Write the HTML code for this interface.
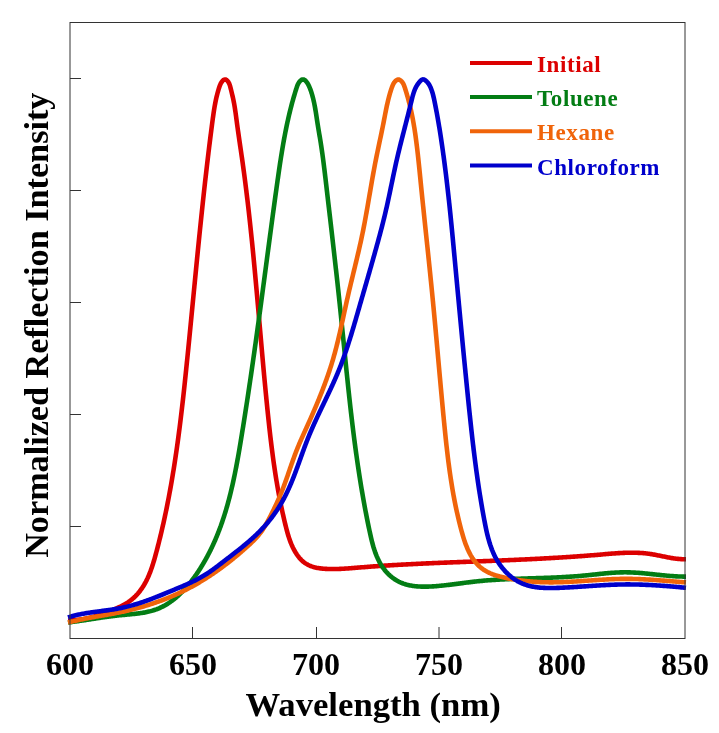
<!DOCTYPE html>
<html><head><meta charset="utf-8"><style>
html,body{margin:0;padding:0;background:#fff;}
svg{display:block;will-change:transform;}
text{font-family:"Liberation Serif",serif;font-weight:bold;}
.tk{font-size:32px;fill:#000;}
.ax{font-size:34.2px;fill:#000;}
.lg{font-size:23px;letter-spacing:0.6px;}
</style></head><body>
<svg width="719" height="733" viewBox="0 0 719 733">
<rect width="719" height="733" fill="#fff"/>
<g fill="none" stroke-width="4.6" stroke-linejoin="round" stroke-linecap="butt">
<path d="M68.00,620.50 L69.11,620.47 L70.20,620.43 L71.28,620.38 L72.35,620.32 L73.40,620.25 L74.44,620.17 L75.47,620.08 L76.49,619.99 L77.50,619.88 L78.50,619.77 L79.49,619.64 L80.47,619.51 L81.44,619.37 L82.40,619.21 L83.36,619.06 L84.30,618.89 L85.25,618.71 L86.18,618.53 L87.11,618.33 L88.04,618.13 L88.96,617.92 L89.88,617.70 L90.79,617.47 L91.71,617.24 L92.62,617.00 L93.52,616.75 L94.43,616.49 L95.34,616.22 L96.24,615.95 L97.15,615.67 L98.06,615.38 L98.97,615.08 L99.88,614.78 L100.79,614.47 L101.71,614.15 L102.63,613.82 L103.56,613.49 L104.49,613.15 L105.42,612.80 L106.36,612.45 L107.31,612.09 L108.26,611.72 L109.23,611.35 L110.19,610.97 L111.17,610.58 L112.15,610.19 L113.14,609.79 L114.13,609.38 L115.12,608.96 L116.11,608.54 L117.10,608.10 L118.09,607.66 L119.07,607.20 L120.05,606.74 L121.02,606.27 L121.98,605.78 L122.93,605.28 L123.87,604.77 L124.80,604.25 L125.71,603.72 L126.60,603.18 L127.48,602.62 L128.33,602.04 L129.17,601.46 L130.00,600.86 L130.80,600.25 L131.59,599.63 L132.35,598.99 L133.11,598.34 L133.84,597.68 L134.56,597.01 L135.27,596.33 L135.95,595.63 L136.63,594.93 L137.28,594.21 L137.93,593.49 L138.55,592.75 L139.17,592.01 L139.77,591.25 L140.35,590.48 L140.92,589.71 L141.48,588.92 L142.03,588.13 L142.56,587.33 L143.08,586.52 L143.59,585.70 L144.09,584.87 L144.58,584.04 L145.05,583.19 L145.51,582.34 L145.97,581.49 L146.41,580.62 L146.84,579.75 L147.26,578.87 L147.68,577.99 L148.08,577.10 L148.48,576.20 L148.86,575.30 L149.24,574.39 L149.61,573.48 L149.97,572.56 L150.33,571.64 L150.67,570.71 L151.01,569.78 L151.35,568.84 L151.67,567.90 L151.99,566.96 L152.31,566.01 L152.62,565.06 L152.92,564.10 L153.22,563.15 L153.51,562.19 L153.80,561.22 L154.09,560.26 L154.37,559.29 L154.65,558.33 L154.92,557.36 L155.19,556.38 L155.46,555.41 L155.73,554.44 L155.99,553.46 L156.25,552.49 L156.51,551.51 L156.77,550.54 L157.03,549.56 L157.28,548.59 L157.54,547.61 L157.79,546.63 L158.04,545.66 L158.29,544.68 L158.54,543.71 L158.79,542.73 L159.03,541.75 L159.27,540.77 L159.52,539.80 L159.76,538.82 L160.00,537.84 L160.24,536.86 L160.47,535.89 L160.71,534.91 L160.94,533.93 L161.18,532.95 L161.41,531.97 L161.64,530.99 L161.87,530.01 L162.09,529.04 L162.32,528.06 L162.54,527.08 L162.77,526.10 L162.99,525.12 L163.21,524.14 L163.43,523.16 L163.65,522.18 L163.86,521.20 L164.08,520.22 L164.29,519.23 L164.51,518.25 L164.72,517.27 L164.93,516.29 L165.14,515.31 L165.35,514.33 L165.55,513.35 L165.76,512.37 L165.96,511.38 L166.17,510.40 L166.37,509.42 L166.57,508.44 L166.77,507.45 L166.97,506.47 L167.16,505.49 L167.36,504.50 L167.55,503.52 L167.75,502.54 L167.94,501.56 L168.13,500.57 L168.32,499.59 L168.51,498.60 L168.70,497.62 L168.89,496.64 L169.07,495.65 L169.26,494.67 L169.44,493.68 L169.62,492.70 L169.80,491.71 L169.98,490.73 L170.16,489.74 L170.34,488.76 L170.52,487.77 L170.70,486.79 L170.87,485.80 L171.04,484.82 L171.22,483.83 L171.39,482.84 L171.56,481.86 L171.73,480.87 L171.90,479.88 L172.07,478.90 L172.23,477.91 L172.40,476.92 L172.57,475.94 L172.73,474.95 L172.89,473.96 L173.06,472.98 L173.22,471.99 L173.38,471.00 L173.54,470.01 L173.70,469.03 L173.85,468.04 L174.01,467.05 L174.17,466.06 L174.32,465.07 L174.47,464.09 L174.63,463.10 L174.78,462.11 L174.93,461.12 L175.08,460.13 L175.23,459.14 L175.38,458.15 L175.53,457.16 L175.68,456.18 L175.82,455.19 L175.97,454.20 L176.11,453.21 L176.26,452.22 L176.40,451.23 L176.54,450.24 L176.69,449.25 L176.83,448.26 L176.97,447.27 L177.11,446.28 L177.24,445.29 L177.38,444.30 L177.52,443.31 L177.66,442.32 L177.79,441.33 L177.93,440.34 L178.06,439.34 L178.20,438.35 L178.33,437.36 L178.46,436.37 L178.59,435.38 L178.72,434.39 L178.85,433.40 L178.98,432.41 L179.11,431.42 L179.24,430.42 L179.37,429.43 L179.50,428.44 L179.62,427.45 L179.75,426.46 L179.87,425.46 L180.00,424.47 L180.12,423.48 L180.25,422.49 L180.37,421.50 L180.49,420.50 L180.61,419.51 L180.73,418.52 L180.85,417.53 L180.97,416.53 L181.09,415.54 L181.21,414.55 L181.33,413.56 L181.45,412.56 L181.57,411.57 L181.68,410.58 L181.80,409.58 L181.92,408.59 L182.03,407.60 L182.15,406.60 L182.26,405.61 L182.38,404.62 L182.49,403.62 L182.60,402.63 L182.72,401.64 L182.83,400.64 L182.94,399.65 L183.05,398.65 L183.16,397.66 L183.27,396.67 L183.38,395.67 L183.49,394.68 L183.60,393.68 L183.71,392.69 L183.82,391.70 L183.93,390.70 L184.04,389.71 L184.15,388.71 L184.25,387.72 L184.36,386.72 L184.47,385.73 L184.57,384.74 L184.68,383.74 L184.79,382.75 L184.89,381.75 L185.00,380.76 L185.10,379.76 L185.21,378.77 L185.31,377.77 L185.42,376.78 L185.52,375.78 L185.62,374.79 L185.73,373.79 L185.83,372.80 L185.93,371.80 L186.04,370.81 L186.14,369.81 L186.24,368.82 L186.34,367.82 L186.45,366.83 L186.55,365.83 L186.65,364.84 L186.75,363.84 L186.85,362.85 L186.95,361.85 L187.05,360.86 L187.15,359.86 L187.26,358.86 L187.36,357.87 L187.46,356.87 L187.56,355.88 L187.66,354.88 L187.76,353.89 L187.86,352.89 L187.96,351.90 L188.06,350.90 L188.16,349.90 L188.26,348.91 L188.36,347.91 L188.45,346.92 L188.55,345.92 L188.65,344.93 L188.75,343.93 L188.85,342.93 L188.95,341.94 L189.05,340.94 L189.15,339.95 L189.25,338.95 L189.34,337.96 L189.44,336.96 L189.54,335.96 L189.64,334.97 L189.74,333.97 L189.83,332.98 L189.93,331.98 L190.03,330.98 L190.13,329.99 L190.23,328.99 L190.32,328.00 L190.42,327.00 L190.52,326.00 L190.62,325.01 L190.71,324.01 L190.81,323.02 L190.91,322.02 L191.01,321.02 L191.10,320.03 L191.20,319.03 L191.30,318.04 L191.39,317.04 L191.49,316.04 L191.59,315.05 L191.68,314.05 L191.78,313.05 L191.88,312.06 L191.98,311.06 L192.07,310.07 L192.17,309.07 L192.27,308.07 L192.36,307.08 L192.46,306.08 L192.56,305.08 L192.65,304.09 L192.75,303.09 L192.85,302.10 L192.94,301.10 L193.04,300.10 L193.14,299.11 L193.23,298.11 L193.33,297.11 L193.43,296.12 L193.52,295.12 L193.62,294.13 L193.72,293.13 L193.81,292.13 L193.91,291.14 L194.01,290.14 L194.10,289.14 L194.20,288.15 L194.30,287.15 L194.39,286.16 L194.49,285.16 L194.59,284.16 L194.68,283.17 L194.78,282.17 L194.88,281.17 L194.97,280.18 L195.07,279.18 L195.17,278.18 L195.27,277.19 L195.36,276.19 L195.46,275.20 L195.56,274.20 L195.65,273.20 L195.75,272.21 L195.85,271.21 L195.95,270.21 L196.04,269.22 L196.14,268.22 L196.24,267.23 L196.34,266.23 L196.43,265.23 L196.53,264.24 L196.63,263.24 L196.73,262.24 L196.83,261.25 L196.93,260.25 L197.02,259.26 L197.12,258.26 L197.22,257.26 L197.32,256.27 L197.42,255.27 L197.52,254.28 L197.61,253.28 L197.71,252.28 L197.81,251.29 L197.91,250.29 L198.01,249.29 L198.11,248.30 L198.21,247.30 L198.31,246.31 L198.41,245.31 L198.51,244.31 L198.61,243.32 L198.71,242.32 L198.81,241.33 L198.91,240.33 L199.01,239.33 L199.11,238.34 L199.21,237.34 L199.31,236.35 L199.41,235.35 L199.51,234.36 L199.61,233.36 L199.72,232.36 L199.82,231.37 L199.92,230.37 L200.02,229.38 L200.12,228.38 L200.22,227.38 L200.33,226.39 L200.43,225.39 L200.53,224.40 L200.63,223.40 L200.74,222.41 L200.84,221.41 L200.94,220.41 L201.05,219.42 L201.15,218.42 L201.25,217.43 L201.36,216.43 L201.46,215.44 L201.57,214.44 L201.67,213.45 L201.78,212.45 L201.88,211.46 L201.99,210.46 L202.09,209.46 L202.20,208.47 L202.30,207.47 L202.41,206.48 L202.51,205.48 L202.62,204.49 L202.73,203.49 L202.83,202.50 L202.94,201.50 L203.05,200.51 L203.15,199.51 L203.26,198.52 L203.37,197.52 L203.48,196.53 L203.59,195.53 L203.69,194.54 L203.80,193.54 L203.91,192.55 L204.02,191.55 L204.13,190.56 L204.24,189.56 L204.35,188.57 L204.46,187.57 L204.57,186.58 L204.68,185.59 L204.79,184.59 L204.90,183.60 L205.01,182.60 L205.12,181.61 L205.23,180.61 L205.35,179.62 L205.46,178.62 L205.57,177.63 L205.68,176.63 L205.80,175.64 L205.91,174.65 L206.02,173.65 L206.14,172.66 L206.25,171.66 L206.37,170.67 L206.48,169.68 L206.60,168.68 L206.71,167.69 L206.83,166.69 L206.94,165.70 L207.06,164.71 L207.17,163.71 L207.29,162.72 L207.41,161.72 L207.53,160.73 L207.64,159.74 L207.76,158.74 L207.88,157.75 L208.00,156.76 L208.12,155.76 L208.24,154.77 L208.36,153.78 L208.47,152.78 L208.59,151.79 L208.72,150.80 L208.84,149.80 L208.96,148.81 L209.08,147.82 L209.20,146.82 L209.32,145.83 L209.44,144.84 L209.57,143.84 L209.69,142.85 L209.81,141.86 L209.94,140.87 L210.06,139.87 L210.19,138.88 L210.31,137.89 L210.43,136.90 L210.56,135.90 L210.69,134.91 L210.81,133.92 L210.94,132.93 L211.07,131.93 L211.19,130.94 L211.32,129.95 L211.45,128.96 L211.58,127.96 L211.71,126.97 L211.83,125.98 L211.96,124.99 L212.09,124.00 L212.22,123.00 L212.35,122.01 L212.49,121.02 L212.62,120.03 L212.75,119.04 L212.88,118.05 L213.02,117.06 L213.16,116.06 L213.30,115.07 L213.44,114.08 L213.58,113.10 L213.73,112.11 L213.88,111.12 L214.04,110.13 L214.20,109.14 L214.36,108.16 L214.52,107.17 L214.69,106.19 L214.87,105.20 L215.05,104.22 L215.23,103.24 L215.42,102.26 L215.62,101.28 L215.82,100.30 L216.03,99.32 L216.25,98.35 L216.47,97.37 L216.70,96.40 L216.93,95.42 L217.18,94.45 L217.43,93.48 L217.69,92.52 L217.95,91.55 L218.23,90.58 L218.52,89.62 L218.81,88.66 L219.11,87.70 L219.43,86.74 L219.77,85.79 L220.14,84.86 L220.56,83.93 L221.03,83.03 L221.58,82.16 L222.20,81.32 L222.92,80.52 L223.71,79.86 L224.56,79.47 L225.42,79.46 L226.29,79.84 L227.10,80.50 L227.83,81.30 L228.44,82.16 L228.94,83.05 L229.37,83.98 L229.72,84.93 L230.02,85.90 L230.29,86.88 L230.54,87.86 L230.79,88.84 L231.03,89.82 L231.28,90.80 L231.52,91.77 L231.75,92.74 L231.99,93.71 L232.22,94.68 L232.45,95.65 L232.67,96.62 L232.89,97.59 L233.10,98.56 L233.31,99.53 L233.51,100.50 L233.71,101.47 L233.90,102.45 L234.08,103.43 L234.26,104.41 L234.43,105.39 L234.59,106.37 L234.76,107.36 L234.91,108.34 L235.07,109.33 L235.21,110.32 L235.36,111.31 L235.50,112.30 L235.64,113.30 L235.78,114.29 L235.91,115.28 L236.05,116.28 L236.18,117.27 L236.31,118.27 L236.44,119.26 L236.57,120.26 L236.71,121.25 L236.84,122.25 L236.97,123.24 L237.10,124.24 L237.24,125.23 L237.37,126.23 L237.51,127.22 L237.65,128.21 L237.79,129.21 L237.92,130.20 L238.06,131.19 L238.21,132.18 L238.35,133.18 L238.49,134.17 L238.63,135.16 L238.77,136.15 L238.92,137.14 L239.06,138.13 L239.20,139.13 L239.35,140.12 L239.49,141.11 L239.64,142.10 L239.78,143.09 L239.93,144.08 L240.07,145.07 L240.22,146.06 L240.36,147.05 L240.51,148.04 L240.65,149.03 L240.80,150.02 L240.94,151.01 L241.09,152.00 L241.23,152.99 L241.37,153.98 L241.52,154.97 L241.66,155.96 L241.80,156.95 L241.95,157.94 L242.09,158.93 L242.23,159.92 L242.37,160.91 L242.51,161.91 L242.65,162.90 L242.79,163.89 L242.92,164.88 L243.06,165.87 L243.20,166.86 L243.33,167.85 L243.47,168.84 L243.60,169.83 L243.74,170.82 L243.87,171.81 L244.00,172.81 L244.14,173.80 L244.27,174.79 L244.40,175.78 L244.53,176.77 L244.66,177.76 L244.79,178.76 L244.92,179.75 L245.05,180.74 L245.17,181.73 L245.30,182.72 L245.43,183.71 L245.55,184.71 L245.68,185.70 L245.80,186.69 L245.93,187.68 L246.05,188.68 L246.17,189.67 L246.30,190.66 L246.42,191.65 L246.54,192.65 L246.66,193.64 L246.78,194.63 L246.90,195.63 L247.02,196.62 L247.14,197.61 L247.26,198.60 L247.38,199.60 L247.50,200.59 L247.61,201.58 L247.73,202.58 L247.85,203.57 L247.96,204.56 L248.08,205.56 L248.19,206.55 L248.31,207.54 L248.42,208.54 L248.53,209.53 L248.65,210.53 L248.76,211.52 L248.87,212.51 L248.98,213.51 L249.09,214.50 L249.20,215.49 L249.31,216.49 L249.42,217.48 L249.53,218.48 L249.64,219.47 L249.75,220.47 L249.86,221.46 L249.97,222.45 L250.08,223.45 L250.18,224.44 L250.29,225.44 L250.40,226.43 L250.50,227.43 L250.61,228.42 L250.71,229.42 L250.82,230.41 L250.92,231.41 L251.02,232.40 L251.13,233.40 L251.23,234.39 L251.33,235.39 L251.44,236.38 L251.54,237.38 L251.64,238.37 L251.74,239.37 L251.84,240.36 L251.95,241.36 L252.05,242.35 L252.15,243.35 L252.25,244.34 L252.35,245.34 L252.45,246.33 L252.54,247.33 L252.64,248.32 L252.74,249.32 L252.84,250.31 L252.94,251.31 L253.03,252.31 L253.13,253.30 L253.23,254.30 L253.33,255.29 L253.42,256.29 L253.52,257.28 L253.61,258.28 L253.71,259.28 L253.81,260.27 L253.90,261.27 L254.00,262.26 L254.09,263.26 L254.18,264.26 L254.28,265.25 L254.37,266.25 L254.47,267.24 L254.56,268.24 L254.65,269.24 L254.75,270.23 L254.84,271.23 L254.93,272.23 L255.02,273.22 L255.12,274.22 L255.21,275.22 L255.30,276.21 L255.39,277.21 L255.48,278.20 L255.57,279.20 L255.67,280.20 L255.76,281.19 L255.85,282.19 L255.94,283.19 L256.03,284.18 L256.12,285.18 L256.21,286.18 L256.30,287.17 L256.39,288.17 L256.48,289.17 L256.57,290.16 L256.66,291.16 L256.75,292.16 L256.84,293.15 L256.92,294.15 L257.01,295.15 L257.10,296.14 L257.19,297.14 L257.28,298.14 L257.37,299.14 L257.46,300.13 L257.54,301.13 L257.63,302.13 L257.72,303.12 L257.81,304.12 L257.90,305.12 L257.98,306.11 L258.07,307.11 L258.16,308.11 L258.25,309.11 L258.34,310.10 L258.42,311.10 L258.51,312.10 L258.60,313.09 L258.69,314.09 L258.77,315.09 L258.86,316.08 L258.95,317.08 L259.04,318.08 L259.12,319.08 L259.21,320.07 L259.30,321.07 L259.38,322.07 L259.47,323.06 L259.56,324.06 L259.65,325.06 L259.73,326.06 L259.82,327.05 L259.91,328.05 L259.99,329.05 L260.08,330.05 L260.17,331.04 L260.26,332.04 L260.34,333.04 L260.43,334.03 L260.52,335.03 L260.61,336.03 L260.69,337.03 L260.78,338.02 L260.87,339.02 L260.96,340.02 L261.04,341.01 L261.13,342.01 L261.22,343.01 L261.31,344.01 L261.40,345.00 L261.48,346.00 L261.57,347.00 L261.66,347.99 L261.75,348.99 L261.84,349.99 L261.93,350.99 L262.01,351.98 L262.10,352.98 L262.19,353.98 L262.28,354.98 L262.37,355.97 L262.46,356.97 L262.55,357.97 L262.64,358.96 L262.73,359.96 L262.82,360.96 L262.91,361.95 L263.00,362.95 L263.09,363.95 L263.18,364.95 L263.27,365.94 L263.36,366.94 L263.45,367.94 L263.54,368.93 L263.63,369.93 L263.72,370.93 L263.82,371.93 L263.91,372.92 L264.00,373.92 L264.09,374.92 L264.18,375.91 L264.28,376.91 L264.37,377.91 L264.46,378.90 L264.56,379.90 L264.65,380.90 L264.74,381.89 L264.84,382.89 L264.93,383.89 L265.03,384.88 L265.12,385.88 L265.22,386.88 L265.31,387.87 L265.41,388.87 L265.50,389.87 L265.60,390.86 L265.69,391.86 L265.79,392.86 L265.89,393.85 L265.98,394.85 L266.08,395.85 L266.18,396.84 L266.28,397.84 L266.37,398.84 L266.47,399.83 L266.57,400.83 L266.67,401.82 L266.77,402.82 L266.87,403.82 L266.97,404.81 L267.07,405.81 L267.17,406.81 L267.27,407.80 L267.37,408.80 L267.47,409.79 L267.57,410.79 L267.68,411.79 L267.78,412.78 L267.88,413.78 L267.99,414.77 L268.09,415.77 L268.19,416.77 L268.30,417.76 L268.40,418.76 L268.51,419.75 L268.62,420.75 L268.72,421.74 L268.83,422.74 L268.94,423.73 L269.04,424.73 L269.15,425.73 L269.26,426.72 L269.37,427.72 L269.48,428.71 L269.59,429.71 L269.70,430.70 L269.82,431.69 L269.93,432.69 L270.04,433.68 L270.16,434.68 L270.27,435.67 L270.39,436.67 L270.50,437.66 L270.62,438.65 L270.74,439.65 L270.86,440.64 L270.98,441.64 L271.10,442.63 L271.22,443.62 L271.34,444.62 L271.46,445.61 L271.59,446.60 L271.71,447.60 L271.84,448.59 L271.96,449.58 L272.09,450.57 L272.22,451.57 L272.35,452.56 L272.48,453.55 L272.61,454.54 L272.74,455.53 L272.87,456.52 L273.01,457.52 L273.14,458.51 L273.28,459.50 L273.41,460.49 L273.55,461.48 L273.69,462.47 L273.83,463.46 L273.97,464.45 L274.12,465.44 L274.26,466.43 L274.41,467.42 L274.55,468.41 L274.70,469.40 L274.85,470.39 L275.00,471.37 L275.15,472.36 L275.30,473.35 L275.45,474.34 L275.61,475.33 L275.76,476.31 L275.92,477.30 L276.08,478.29 L276.24,479.28 L276.40,480.26 L276.56,481.25 L276.73,482.23 L276.89,483.22 L277.06,484.21 L277.23,485.19 L277.40,486.18 L277.57,487.16 L277.74,488.15 L277.92,489.13 L278.09,490.11 L278.27,491.10 L278.45,492.08 L278.63,493.06 L278.81,494.05 L278.99,495.03 L279.18,496.01 L279.36,496.99 L279.55,497.98 L279.74,498.96 L279.93,499.94 L280.13,500.92 L280.32,501.90 L280.52,502.88 L280.72,503.86 L280.92,504.84 L281.12,505.82 L281.32,506.80 L281.53,507.78 L281.73,508.76 L281.94,509.74 L282.15,510.71 L282.36,511.69 L282.58,512.67 L282.79,513.64 L283.01,514.62 L283.23,515.60 L283.45,516.57 L283.68,517.55 L283.90,518.52 L284.13,519.50 L284.36,520.47 L284.59,521.45 L284.82,522.42 L285.06,523.39 L285.29,524.37 L285.53,525.34 L285.77,526.31 L286.02,527.28 L286.27,528.25 L286.52,529.22 L286.77,530.19 L287.03,531.16 L287.30,532.12 L287.57,533.09 L287.85,534.05 L288.13,535.01 L288.42,535.96 L288.72,536.92 L289.03,537.87 L289.35,538.81 L289.68,539.76 L290.02,540.70 L290.37,541.63 L290.73,542.57 L291.10,543.49 L291.48,544.42 L291.88,545.33 L292.29,546.25 L292.71,547.16 L293.15,548.06 L293.61,548.96 L294.08,549.85 L294.56,550.73 L295.07,551.61 L295.58,552.48 L296.12,553.34 L296.67,554.19 L297.24,555.02 L297.83,555.84 L298.44,556.64 L299.06,557.42 L299.70,558.18 L300.36,558.92 L301.04,559.64 L301.74,560.34 L302.46,561.00 L303.20,561.64 L303.95,562.25 L304.73,562.83 L305.53,563.38 L306.35,563.89 L307.18,564.38 L308.04,564.83 L308.91,565.25 L309.80,565.64 L310.70,566.01 L311.62,566.35 L312.55,566.66 L313.49,566.95 L314.45,567.22 L315.42,567.46 L316.39,567.68 L317.38,567.88 L318.38,568.06 L319.38,568.22 L320.39,568.36 L321.40,568.49 L322.42,568.60 L323.45,568.70 L324.47,568.78 L325.50,568.85 L326.53,568.91 L327.56,568.95 L328.59,568.99 L329.62,569.02 L330.65,569.03 L331.67,569.05 L332.70,569.05 L333.72,569.05 L334.73,569.04 L335.75,569.02 L336.76,569.00 L337.78,568.98 L338.79,568.94 L339.79,568.90 L340.80,568.86 L341.81,568.81 L342.81,568.76 L343.81,568.71 L344.81,568.65 L345.81,568.58 L346.81,568.52 L347.81,568.45 L348.80,568.38 L349.80,568.30 L350.80,568.23 L351.79,568.15 L352.78,568.07 L353.78,567.99 L354.77,567.90 L355.76,567.82 L356.76,567.74 L357.75,567.66 L358.74,567.57 L359.73,567.49 L360.73,567.41 L361.72,567.33 L362.71,567.25 L363.70,567.17 L364.70,567.09 L365.69,567.01 L366.68,566.93 L367.68,566.86 L368.67,566.78 L369.67,566.71 L370.66,566.63 L371.65,566.56 L372.65,566.49 L373.64,566.41 L374.64,566.34 L375.63,566.27 L376.63,566.20 L377.62,566.13 L378.62,566.06 L379.61,565.99 L380.61,565.93 L381.60,565.86 L382.60,565.80 L383.60,565.73 L384.59,565.66 L385.59,565.60 L386.58,565.54 L387.58,565.47 L388.58,565.41 L389.57,565.35 L390.57,565.29 L391.57,565.23 L392.56,565.17 L393.56,565.11 L394.56,565.05 L395.56,564.99 L396.55,564.94 L397.55,564.88 L398.55,564.82 L399.55,564.77 L400.54,564.71 L401.54,564.65 L402.54,564.60 L403.54,564.55 L404.54,564.49 L405.53,564.44 L406.53,564.39 L407.53,564.33 L408.53,564.28 L409.53,564.23 L410.53,564.18 L411.53,564.13 L412.53,564.08 L413.52,564.03 L414.52,563.98 L415.52,563.93 L416.52,563.88 L417.52,563.84 L418.52,563.79 L419.52,563.74 L420.52,563.69 L421.52,563.65 L422.52,563.60 L423.52,563.56 L424.52,563.51 L425.52,563.47 L426.52,563.42 L427.52,563.38 L428.52,563.33 L429.52,563.29 L430.52,563.25 L431.52,563.20 L432.52,563.16 L433.52,563.12 L434.52,563.07 L435.52,563.03 L436.52,562.99 L437.52,562.95 L438.52,562.91 L439.52,562.87 L440.52,562.82 L441.52,562.78 L442.52,562.74 L443.52,562.70 L444.52,562.66 L445.52,562.62 L446.52,562.58 L447.53,562.54 L448.53,562.50 L449.53,562.46 L450.53,562.42 L451.53,562.38 L452.53,562.35 L453.53,562.31 L454.53,562.27 L455.53,562.23 L456.53,562.19 L457.53,562.15 L458.53,562.11 L459.53,562.08 L460.53,562.04 L461.54,562.00 L462.54,561.96 L463.54,561.92 L464.54,561.89 L465.54,561.85 L466.54,561.81 L467.54,561.77 L468.54,561.73 L469.54,561.70 L470.54,561.66 L471.54,561.62 L472.54,561.58 L473.54,561.54 L474.54,561.51 L475.55,561.47 L476.55,561.43 L477.55,561.39 L478.55,561.35 L479.55,561.32 L480.55,561.28 L481.55,561.24 L482.55,561.20 L483.55,561.16 L484.55,561.12 L485.55,561.08 L486.55,561.04 L487.55,561.01 L488.55,560.97 L489.55,560.93 L490.55,560.89 L491.55,560.85 L492.55,560.81 L493.55,560.77 L494.55,560.73 L495.55,560.69 L496.55,560.65 L497.55,560.61 L498.55,560.57 L499.55,560.53 L500.55,560.48 L501.55,560.44 L502.55,560.40 L503.55,560.36 L504.55,560.32 L505.55,560.28 L506.55,560.23 L507.55,560.19 L508.54,560.15 L509.54,560.11 L510.54,560.06 L511.54,560.02 L512.54,559.98 L513.54,559.93 L514.54,559.89 L515.54,559.84 L516.54,559.80 L517.54,559.75 L518.54,559.71 L519.54,559.66 L520.54,559.62 L521.53,559.57 L522.53,559.53 L523.53,559.48 L524.53,559.43 L525.53,559.39 L526.53,559.34 L527.53,559.29 L528.53,559.24 L529.53,559.19 L530.52,559.14 L531.52,559.10 L532.52,559.05 L533.52,559.00 L534.52,558.95 L535.52,558.90 L536.52,558.84 L537.51,558.79 L538.51,558.74 L539.51,558.69 L540.51,558.64 L541.51,558.58 L542.51,558.53 L543.51,558.48 L544.50,558.42 L545.50,558.37 L546.50,558.31 L547.50,558.26 L548.50,558.20 L549.50,558.15 L550.49,558.09 L551.49,558.03 L552.49,557.97 L553.49,557.92 L554.49,557.86 L555.48,557.80 L556.48,557.74 L557.48,557.68 L558.48,557.62 L559.48,557.56 L560.47,557.50 L561.47,557.44 L562.47,557.37 L563.47,557.31 L564.47,557.25 L565.46,557.18 L566.46,557.12 L567.46,557.06 L568.46,556.99 L569.45,556.92 L570.45,556.86 L571.45,556.79 L572.45,556.72 L573.45,556.65 L574.44,556.59 L575.44,556.52 L576.44,556.45 L577.44,556.38 L578.43,556.31 L579.43,556.23 L580.43,556.16 L581.43,556.09 L582.42,556.02 L583.42,555.94 L584.42,555.87 L585.41,555.79 L586.41,555.72 L587.41,555.64 L588.41,555.56 L589.40,555.49 L590.40,555.41 L591.40,555.33 L592.40,555.25 L593.39,555.17 L594.39,555.09 L595.39,555.01 L596.38,554.92 L597.38,554.84 L598.38,554.76 L599.38,554.67 L600.37,554.59 L601.37,554.50 L602.37,554.42 L603.36,554.33 L604.36,554.24 L605.36,554.16 L606.35,554.07 L607.35,553.99 L608.35,553.90 L609.34,553.82 L610.34,553.74 L611.34,553.66 L612.34,553.58 L613.33,553.50 L614.33,553.43 L615.33,553.36 L616.32,553.29 L617.32,553.22 L618.32,553.16 L619.31,553.09 L620.31,553.04 L621.31,552.98 L622.30,552.93 L623.30,552.89 L624.30,552.85 L625.29,552.81 L626.29,552.78 L627.29,552.75 L628.28,552.73 L629.28,552.71 L630.28,552.70 L631.27,552.69 L632.27,552.69 L633.27,552.70 L634.26,552.71 L635.26,552.73 L636.26,552.76 L637.25,552.79 L638.25,552.83 L639.25,552.88 L640.24,552.93 L641.24,553.00 L642.24,553.07 L643.23,553.15 L644.23,553.23 L645.23,553.33 L646.22,553.44 L647.22,553.55 L648.22,553.68 L649.21,553.81 L650.21,553.95 L651.21,554.11 L652.20,554.27 L653.20,554.44 L654.20,554.61 L655.19,554.80 L656.19,554.99 L657.19,555.18 L658.18,555.38 L659.18,555.58 L660.18,555.79 L661.17,555.99 L662.17,556.20 L663.16,556.40 L664.16,556.61 L665.16,556.81 L666.15,557.01 L667.15,557.21 L668.14,557.40 L669.14,557.59 L670.13,557.77 L671.12,557.94 L672.12,558.11 L673.11,558.27 L674.11,558.42 L675.10,558.56 L676.09,558.69 L677.08,558.81 L678.08,558.91 L679.07,559.00 L680.06,559.08 L681.05,559.14 L682.04,559.19 L683.03,559.22 L684.02,559.23 L685.01,559.22 L686.00,559.20" stroke="#dc0000"/>
<path d="M68.00,622.50 L69.03,622.37 L70.05,622.24 L71.07,622.11 L72.08,621.98 L73.10,621.84 L74.10,621.71 L75.11,621.57 L76.11,621.43 L77.11,621.29 L78.11,621.14 L79.10,621.00 L80.09,620.85 L81.08,620.71 L82.07,620.56 L83.06,620.41 L84.04,620.26 L85.02,620.11 L86.00,619.96 L86.98,619.81 L87.95,619.66 L88.93,619.51 L89.90,619.36 L90.88,619.21 L91.85,619.06 L92.82,618.91 L93.79,618.76 L94.76,618.61 L95.74,618.46 L96.71,618.31 L97.68,618.17 L98.65,618.02 L99.62,617.87 L100.59,617.73 L101.56,617.59 L102.54,617.44 L103.51,617.30 L104.48,617.16 L105.46,617.03 L106.44,616.89 L107.42,616.76 L108.40,616.62 L109.38,616.49 L110.36,616.37 L111.35,616.24 L112.33,616.12 L113.32,616.00 L114.32,615.88 L115.31,615.76 L116.31,615.65 L117.31,615.54 L118.31,615.43 L119.32,615.33 L120.33,615.22 L121.34,615.13 L122.36,615.03 L123.38,614.94 L124.40,614.84 L125.42,614.75 L126.44,614.66 L127.47,614.57 L128.49,614.47 L129.52,614.38 L130.55,614.28 L131.57,614.18 L132.60,614.08 L133.62,613.98 L134.65,613.87 L135.67,613.75 L136.70,613.63 L137.72,613.51 L138.73,613.38 L139.75,613.24 L140.76,613.09 L141.77,612.94 L142.78,612.78 L143.78,612.61 L144.78,612.43 L145.78,612.24 L146.77,612.04 L147.75,611.83 L148.73,611.61 L149.71,611.37 L150.68,611.13 L151.64,610.87 L152.59,610.59 L153.54,610.30 L154.48,610.00 L155.42,609.68 L156.35,609.35 L157.27,609.00 L158.18,608.64 L159.08,608.26 L159.98,607.86 L160.87,607.45 L161.75,607.03 L162.63,606.59 L163.49,606.14 L164.35,605.68 L165.21,605.20 L166.05,604.71 L166.89,604.20 L167.72,603.68 L168.55,603.16 L169.36,602.61 L170.17,602.06 L170.98,601.49 L171.77,600.92 L172.56,600.33 L173.35,599.73 L174.12,599.12 L174.89,598.50 L175.66,597.87 L176.41,597.23 L177.16,596.58 L177.90,595.92 L178.64,595.25 L179.37,594.57 L180.10,593.89 L180.81,593.19 L181.52,592.48 L182.23,591.77 L182.93,591.05 L183.62,590.32 L184.31,589.59 L184.99,588.85 L185.66,588.10 L186.33,587.34 L186.99,586.58 L187.65,585.81 L188.30,585.03 L188.94,584.25 L189.58,583.47 L190.21,582.68 L190.84,581.88 L191.46,581.08 L192.08,580.27 L192.69,579.46 L193.29,578.65 L193.89,577.83 L194.49,577.01 L195.08,576.18 L195.66,575.35 L196.24,574.52 L196.81,573.69 L197.38,572.85 L197.94,572.01 L198.50,571.17 L199.05,570.33 L199.59,569.48 L200.14,568.63 L200.67,567.79 L201.20,566.93 L201.73,566.08 L202.25,565.22 L202.77,564.36 L203.28,563.50 L203.79,562.64 L204.29,561.78 L204.79,560.91 L205.28,560.04 L205.77,559.17 L206.25,558.30 L206.73,557.42 L207.21,556.55 L207.68,555.67 L208.14,554.79 L208.60,553.90 L209.06,553.02 L209.51,552.13 L209.96,551.25 L210.40,550.36 L210.84,549.46 L211.28,548.57 L211.71,547.67 L212.13,546.78 L212.55,545.88 L212.97,544.98 L213.39,544.07 L213.80,543.17 L214.20,542.26 L214.60,541.36 L215.00,540.45 L215.39,539.54 L215.78,538.62 L216.17,537.71 L216.55,536.79 L216.93,535.88 L217.30,534.96 L217.67,534.04 L218.04,533.11 L218.40,532.19 L218.76,531.27 L219.12,530.34 L219.47,529.41 L219.82,528.48 L220.16,527.55 L220.51,526.62 L220.84,525.68 L221.18,524.75 L221.51,523.81 L221.84,522.87 L222.16,521.93 L222.48,520.99 L222.80,520.05 L223.12,519.11 L223.43,518.16 L223.74,517.22 L224.04,516.27 L224.34,515.32 L224.64,514.37 L224.94,513.42 L225.23,512.47 L225.52,511.52 L225.81,510.56 L226.09,509.61 L226.38,508.65 L226.65,507.69 L226.93,506.74 L227.20,505.78 L227.47,504.81 L227.74,503.85 L228.01,502.89 L228.27,501.93 L228.53,500.96 L228.79,500.00 L229.04,499.03 L229.29,498.06 L229.54,497.09 L229.79,496.12 L230.04,495.15 L230.28,494.18 L230.52,493.21 L230.76,492.24 L230.99,491.26 L231.23,490.29 L231.46,489.31 L231.69,488.34 L231.91,487.36 L232.14,486.38 L232.36,485.41 L232.58,484.43 L232.80,483.45 L233.02,482.47 L233.23,481.49 L233.44,480.50 L233.66,479.52 L233.87,478.54 L234.07,477.56 L234.28,476.57 L234.48,475.59 L234.68,474.60 L234.89,473.62 L235.08,472.63 L235.28,471.64 L235.48,470.66 L235.67,469.67 L235.86,468.68 L236.06,467.69 L236.25,466.71 L236.43,465.72 L236.62,464.73 L236.81,463.74 L236.99,462.75 L237.18,461.76 L237.36,460.77 L237.54,459.77 L237.72,458.78 L237.90,457.79 L238.07,456.80 L238.25,455.81 L238.43,454.82 L238.60,453.82 L238.77,452.83 L238.95,451.84 L239.12,450.84 L239.29,449.85 L239.46,448.86 L239.63,447.86 L239.79,446.87 L239.96,445.88 L240.13,444.88 L240.30,443.89 L240.46,442.90 L240.63,441.90 L240.79,440.91 L240.95,439.92 L241.12,438.92 L241.28,437.93 L241.44,436.94 L241.60,435.94 L241.77,434.95 L241.93,433.96 L242.09,432.97 L242.25,431.97 L242.41,430.98 L242.57,429.99 L242.73,429.00 L242.89,428.00 L243.05,427.01 L243.21,426.02 L243.36,425.03 L243.52,424.04 L243.68,423.05 L243.84,422.05 L243.99,421.06 L244.15,420.07 L244.31,419.08 L244.46,418.09 L244.62,417.10 L244.78,416.11 L244.93,415.12 L245.09,414.13 L245.24,413.14 L245.40,412.15 L245.55,411.16 L245.70,410.17 L245.86,409.18 L246.01,408.19 L246.16,407.20 L246.32,406.21 L246.47,405.22 L246.62,404.23 L246.77,403.24 L246.92,402.25 L247.08,401.26 L247.23,400.27 L247.38,399.28 L247.53,398.29 L247.68,397.30 L247.83,396.31 L247.98,395.33 L248.13,394.34 L248.28,393.35 L248.43,392.36 L248.57,391.37 L248.72,390.38 L248.87,389.39 L249.02,388.41 L249.17,387.42 L249.31,386.43 L249.46,385.44 L249.61,384.45 L249.76,383.46 L249.90,382.48 L250.05,381.49 L250.19,380.50 L250.34,379.51 L250.49,378.52 L250.63,377.54 L250.78,376.55 L250.92,375.56 L251.07,374.57 L251.21,373.58 L251.35,372.60 L251.50,371.61 L251.64,370.62 L251.79,369.63 L251.93,368.64 L252.07,367.66 L252.21,366.67 L252.36,365.68 L252.50,364.69 L252.64,363.71 L252.78,362.72 L252.93,361.73 L253.07,360.74 L253.21,359.76 L253.35,358.77 L253.49,357.78 L253.63,356.79 L253.77,355.81 L253.91,354.82 L254.06,353.83 L254.20,352.84 L254.34,351.85 L254.48,350.87 L254.62,349.88 L254.75,348.89 L254.89,347.90 L255.03,346.92 L255.17,345.93 L255.31,344.94 L255.45,343.95 L255.59,342.96 L255.73,341.98 L255.86,340.99 L256.00,340.00 L256.14,339.01 L256.28,338.02 L256.42,337.04 L256.55,336.05 L256.69,335.06 L256.83,334.07 L256.97,333.08 L257.10,332.10 L257.24,331.11 L257.38,330.12 L257.51,329.13 L257.65,328.14 L257.78,327.15 L257.92,326.16 L258.06,325.18 L258.19,324.19 L258.33,323.20 L258.46,322.21 L258.60,321.22 L258.73,320.23 L258.87,319.24 L259.00,318.25 L259.14,317.26 L259.27,316.27 L259.41,315.28 L259.54,314.30 L259.68,313.31 L259.81,312.32 L259.95,311.33 L260.08,310.34 L260.21,309.35 L260.35,308.36 L260.48,307.37 L260.62,306.38 L260.75,305.39 L260.88,304.40 L261.02,303.40 L261.15,302.41 L261.28,301.42 L261.42,300.43 L261.55,299.44 L261.68,298.45 L261.82,297.46 L261.95,296.47 L262.08,295.48 L262.22,294.49 L262.35,293.50 L262.48,292.50 L262.61,291.51 L262.75,290.52 L262.88,289.53 L263.01,288.54 L263.14,287.55 L263.28,286.55 L263.41,285.56 L263.54,284.57 L263.67,283.58 L263.81,282.59 L263.94,281.60 L264.07,280.60 L264.20,279.61 L264.33,278.62 L264.47,277.63 L264.60,276.63 L264.73,275.64 L264.86,274.65 L264.99,273.66 L265.13,272.66 L265.26,271.67 L265.39,270.68 L265.52,269.69 L265.65,268.69 L265.78,267.70 L265.92,266.71 L266.05,265.71 L266.18,264.72 L266.31,263.73 L266.44,262.74 L266.58,261.74 L266.71,260.75 L266.84,259.76 L266.97,258.76 L267.10,257.77 L267.23,256.78 L267.37,255.78 L267.50,254.79 L267.63,253.80 L267.76,252.80 L267.89,251.81 L268.03,250.82 L268.16,249.82 L268.29,248.83 L268.42,247.84 L268.55,246.84 L268.69,245.85 L268.82,244.86 L268.95,243.86 L269.08,242.87 L269.22,241.88 L269.35,240.88 L269.48,239.89 L269.61,238.89 L269.75,237.90 L269.88,236.91 L270.01,235.91 L270.14,234.92 L270.28,233.93 L270.41,232.93 L270.54,231.94 L270.68,230.95 L270.81,229.95 L270.94,228.96 L271.08,227.96 L271.21,226.97 L271.34,225.98 L271.48,224.98 L271.61,223.99 L271.74,223.00 L271.88,222.00 L272.01,221.01 L272.14,220.02 L272.28,219.02 L272.41,218.03 L272.55,217.03 L272.68,216.04 L272.82,215.05 L272.95,214.05 L273.08,213.06 L273.22,212.07 L273.35,211.07 L273.49,210.08 L273.62,209.09 L273.76,208.09 L273.89,207.10 L274.03,206.11 L274.17,205.11 L274.30,204.12 L274.44,203.13 L274.57,202.13 L274.71,201.14 L274.85,200.15 L274.98,199.15 L275.12,198.16 L275.26,197.17 L275.39,196.17 L275.53,195.18 L275.67,194.19 L275.80,193.19 L275.94,192.20 L276.08,191.21 L276.22,190.21 L276.36,189.22 L276.49,188.23 L276.63,187.24 L276.77,186.24 L276.91,185.25 L277.05,184.26 L277.19,183.27 L277.33,182.27 L277.47,181.28 L277.60,180.29 L277.74,179.30 L277.89,178.30 L278.03,177.31 L278.17,176.32 L278.31,175.33 L278.45,174.34 L278.59,173.34 L278.74,172.35 L278.88,171.36 L279.02,170.37 L279.17,169.38 L279.32,168.39 L279.46,167.40 L279.61,166.41 L279.76,165.42 L279.90,164.43 L280.05,163.44 L280.20,162.45 L280.36,161.46 L280.51,160.47 L280.66,159.48 L280.81,158.49 L280.97,157.50 L281.12,156.51 L281.28,155.52 L281.44,154.53 L281.60,153.55 L281.76,152.56 L281.92,151.57 L282.08,150.59 L282.25,149.60 L282.41,148.61 L282.58,147.63 L282.75,146.64 L282.92,145.66 L283.09,144.67 L283.26,143.69 L283.43,142.70 L283.61,141.72 L283.78,140.73 L283.96,139.75 L284.14,138.77 L284.32,137.78 L284.50,136.80 L284.69,135.82 L284.88,134.84 L285.06,133.86 L285.25,132.88 L285.44,131.90 L285.64,130.92 L285.83,129.94 L286.03,128.96 L286.23,127.98 L286.43,127.00 L286.63,126.03 L286.84,125.05 L287.05,124.07 L287.25,123.10 L287.47,122.12 L287.68,121.14 L287.90,120.17 L288.11,119.20 L288.33,118.22 L288.55,117.25 L288.78,116.28 L289.01,115.31 L289.24,114.33 L289.47,113.36 L289.70,112.39 L289.94,111.42 L290.18,110.45 L290.42,109.48 L290.66,108.52 L290.91,107.55 L291.16,106.58 L291.41,105.62 L291.66,104.65 L291.92,103.69 L292.18,102.72 L292.44,101.76 L292.71,100.79 L292.98,99.83 L293.25,98.87 L293.52,97.91 L293.80,96.95 L294.08,95.99 L294.36,95.03 L294.65,94.07 L294.94,93.11 L295.23,92.16 L295.52,91.20 L295.82,90.25 L296.12,89.29 L296.43,88.34 L296.73,87.38 L297.05,86.43 L297.40,85.49 L297.78,84.57 L298.23,83.66 L298.74,82.78 L299.34,81.93 L300.04,81.11 L300.84,80.36 L301.71,79.76 L302.61,79.43 L303.51,79.45 L304.37,79.82 L305.18,80.44 L305.93,81.20 L306.61,82.01 L307.22,82.85 L307.77,83.72 L308.27,84.60 L308.73,85.50 L309.15,86.42 L309.54,87.34 L309.91,88.27 L310.27,89.20 L310.62,90.14 L310.95,91.08 L311.27,92.03 L311.57,92.98 L311.87,93.93 L312.15,94.88 L312.43,95.84 L312.69,96.80 L312.94,97.76 L313.19,98.73 L313.42,99.70 L313.65,100.67 L313.87,101.64 L314.08,102.62 L314.28,103.60 L314.47,104.58 L314.66,105.56 L314.85,106.54 L315.03,107.53 L315.20,108.51 L315.37,109.50 L315.54,110.49 L315.70,111.48 L315.86,112.47 L316.01,113.46 L316.17,114.45 L316.32,115.44 L316.47,116.44 L316.62,117.43 L316.77,118.42 L316.92,119.41 L317.07,120.41 L317.22,121.40 L317.38,122.39 L317.53,123.39 L317.69,124.38 L317.85,125.37 L318.01,126.36 L318.17,127.35 L318.33,128.34 L318.50,129.33 L318.66,130.32 L318.83,131.31 L318.99,132.30 L319.16,133.29 L319.32,134.27 L319.49,135.26 L319.66,136.25 L319.82,137.24 L319.98,138.23 L320.15,139.22 L320.31,140.20 L320.47,141.19 L320.63,142.18 L320.79,143.17 L320.94,144.16 L321.09,145.15 L321.25,146.13 L321.40,147.12 L321.54,148.11 L321.69,149.10 L321.83,150.09 L321.98,151.08 L322.12,152.07 L322.26,153.06 L322.40,154.05 L322.53,155.04 L322.67,156.03 L322.80,157.02 L322.94,158.01 L323.07,159.00 L323.20,159.99 L323.33,160.98 L323.46,161.97 L323.58,162.96 L323.71,163.95 L323.83,164.95 L323.96,165.94 L324.08,166.93 L324.20,167.92 L324.33,168.91 L324.45,169.90 L324.57,170.89 L324.69,171.89 L324.81,172.88 L324.92,173.87 L325.04,174.86 L325.16,175.85 L325.28,176.85 L325.39,177.84 L325.51,178.83 L325.63,179.82 L325.74,180.82 L325.86,181.81 L325.97,182.80 L326.09,183.79 L326.21,184.79 L326.32,185.78 L326.44,186.77 L326.55,187.77 L326.67,188.76 L326.78,189.75 L326.90,190.75 L327.02,191.74 L327.13,192.73 L327.25,193.73 L327.36,194.72 L327.48,195.71 L327.59,196.71 L327.71,197.70 L327.83,198.70 L327.94,199.69 L328.06,200.68 L328.17,201.68 L328.29,202.67 L328.41,203.67 L328.52,204.66 L328.64,205.65 L328.75,206.65 L328.87,207.64 L328.99,208.64 L329.10,209.63 L329.22,210.63 L329.33,211.62 L329.45,212.62 L329.56,213.61 L329.68,214.61 L329.80,215.60 L329.91,216.60 L330.03,217.59 L330.14,218.59 L330.26,219.58 L330.37,220.58 L330.49,221.57 L330.60,222.57 L330.72,223.56 L330.84,224.56 L330.95,225.55 L331.07,226.55 L331.18,227.54 L331.30,228.54 L331.41,229.53 L331.53,230.53 L331.64,231.53 L331.76,232.52 L331.87,233.52 L331.99,234.51 L332.10,235.51 L332.22,236.50 L332.33,237.50 L332.44,238.50 L332.56,239.49 L332.67,240.49 L332.79,241.48 L332.90,242.48 L333.02,243.47 L333.13,244.47 L333.24,245.47 L333.36,246.46 L333.47,247.46 L333.58,248.46 L333.70,249.45 L333.81,250.45 L333.93,251.44 L334.04,252.44 L334.15,253.44 L334.26,254.43 L334.38,255.43 L334.49,256.42 L334.60,257.42 L334.72,258.42 L334.83,259.41 L334.94,260.41 L335.05,261.41 L335.16,262.40 L335.28,263.40 L335.39,264.39 L335.50,265.39 L335.61,266.39 L335.72,267.38 L335.83,268.38 L335.95,269.38 L336.06,270.37 L336.17,271.37 L336.28,272.37 L336.39,273.36 L336.50,274.36 L336.61,275.35 L336.72,276.35 L336.83,277.35 L336.94,278.34 L337.05,279.34 L337.16,280.34 L337.27,281.33 L337.38,282.33 L337.49,283.32 L337.60,284.32 L337.70,285.32 L337.81,286.31 L337.92,287.31 L338.03,288.31 L338.14,289.30 L338.25,290.30 L338.35,291.29 L338.46,292.29 L338.57,293.29 L338.67,294.28 L338.78,295.28 L338.89,296.28 L339.00,297.27 L339.10,298.27 L339.21,299.26 L339.31,300.26 L339.42,301.26 L339.52,302.25 L339.63,303.25 L339.74,304.24 L339.84,305.24 L339.94,306.24 L340.05,307.23 L340.15,308.23 L340.26,309.22 L340.36,310.22 L340.46,311.22 L340.57,312.21 L340.67,313.21 L340.77,314.20 L340.88,315.20 L340.98,316.19 L341.08,317.19 L341.18,318.18 L341.29,319.18 L341.39,320.18 L341.49,321.17 L341.59,322.17 L341.69,323.16 L341.79,324.16 L341.90,325.15 L342.00,326.15 L342.10,327.14 L342.20,328.14 L342.30,329.13 L342.40,330.13 L342.50,331.12 L342.60,332.12 L342.70,333.11 L342.80,334.11 L342.90,335.10 L343.00,336.10 L343.10,337.09 L343.20,338.09 L343.30,339.08 L343.40,340.08 L343.50,341.07 L343.60,342.07 L343.70,343.06 L343.80,344.06 L343.90,345.05 L344.00,346.05 L344.10,347.04 L344.20,348.04 L344.30,349.03 L344.40,350.03 L344.50,351.02 L344.60,352.01 L344.70,353.01 L344.80,354.00 L344.90,355.00 L345.00,355.99 L345.10,356.99 L345.20,357.98 L345.30,358.98 L345.40,359.97 L345.50,360.96 L345.60,361.96 L345.70,362.95 L345.81,363.95 L345.91,364.94 L346.01,365.94 L346.11,366.93 L346.21,367.92 L346.31,368.92 L346.41,369.91 L346.52,370.91 L346.62,371.90 L346.72,372.89 L346.82,373.89 L346.93,374.88 L347.03,375.88 L347.13,376.87 L347.23,377.86 L347.34,378.86 L347.44,379.85 L347.55,380.84 L347.65,381.84 L347.75,382.83 L347.86,383.83 L347.96,384.82 L348.07,385.81 L348.17,386.81 L348.28,387.80 L348.39,388.79 L348.49,389.79 L348.60,390.78 L348.70,391.77 L348.81,392.77 L348.92,393.76 L349.03,394.75 L349.13,395.75 L349.24,396.74 L349.35,397.73 L349.46,398.73 L349.57,399.72 L349.68,400.71 L349.79,401.71 L349.90,402.70 L350.01,403.69 L350.12,404.69 L350.23,405.68 L350.34,406.67 L350.46,407.66 L350.57,408.66 L350.68,409.65 L350.80,410.64 L350.91,411.64 L351.02,412.63 L351.14,413.62 L351.25,414.62 L351.37,415.61 L351.49,416.60 L351.60,417.59 L351.72,418.59 L351.84,419.58 L351.95,420.57 L352.07,421.56 L352.19,422.56 L352.31,423.55 L352.43,424.54 L352.55,425.54 L352.67,426.53 L352.79,427.52 L352.92,428.51 L353.04,429.51 L353.16,430.50 L353.29,431.49 L353.41,432.48 L353.53,433.47 L353.66,434.47 L353.79,435.46 L353.91,436.45 L354.04,437.44 L354.17,438.44 L354.29,439.43 L354.42,440.42 L354.55,441.41 L354.68,442.41 L354.81,443.40 L354.94,444.39 L355.08,445.38 L355.21,446.37 L355.34,447.37 L355.48,448.36 L355.61,449.35 L355.75,450.34 L355.88,451.33 L356.02,452.33 L356.16,453.32 L356.29,454.31 L356.43,455.30 L356.57,456.29 L356.71,457.29 L356.85,458.28 L356.99,459.27 L357.14,460.26 L357.28,461.25 L357.42,462.24 L357.57,463.24 L357.71,464.23 L357.86,465.22 L358.00,466.21 L358.15,467.20 L358.30,468.19 L358.45,469.19 L358.60,470.18 L358.75,471.17 L358.90,472.16 L359.05,473.15 L359.21,474.14 L359.36,475.14 L359.51,476.13 L359.67,477.12 L359.83,478.11 L359.98,479.10 L360.14,480.09 L360.30,481.08 L360.46,482.08 L360.62,483.07 L360.78,484.06 L360.94,485.05 L361.11,486.04 L361.27,487.03 L361.44,488.02 L361.60,489.01 L361.77,490.01 L361.94,491.00 L362.11,491.99 L362.28,492.98 L362.45,493.97 L362.62,494.96 L362.79,495.95 L362.96,496.94 L363.14,497.93 L363.31,498.93 L363.49,499.92 L363.67,500.91 L363.85,501.90 L364.03,502.89 L364.21,503.88 L364.39,504.87 L364.57,505.86 L364.75,506.85 L364.94,507.84 L365.12,508.83 L365.31,509.82 L365.50,510.82 L365.69,511.81 L365.88,512.80 L366.07,513.79 L366.26,514.78 L366.45,515.77 L366.65,516.76 L366.84,517.75 L367.04,518.74 L367.24,519.73 L367.43,520.72 L367.63,521.71 L367.83,522.70 L368.04,523.69 L368.24,524.68 L368.44,525.68 L368.65,526.67 L368.86,527.66 L369.06,528.65 L369.27,529.64 L369.48,530.63 L369.69,531.62 L369.91,532.61 L370.12,533.60 L370.34,534.59 L370.56,535.57 L370.78,536.56 L371.01,537.54 L371.24,538.53 L371.48,539.51 L371.71,540.49 L371.96,541.46 L372.21,542.44 L372.47,543.41 L372.73,544.37 L373.00,545.34 L373.27,546.30 L373.55,547.26 L373.85,548.21 L374.14,549.15 L374.45,550.10 L374.77,551.04 L375.09,551.97 L375.42,552.90 L375.77,553.82 L376.12,554.73 L376.49,555.64 L376.86,556.55 L377.25,557.45 L377.65,558.34 L378.06,559.22 L378.48,560.09 L378.92,560.96 L379.37,561.82 L379.83,562.68 L380.31,563.52 L380.80,564.36 L381.31,565.18 L381.83,566.00 L382.37,566.81 L382.92,567.61 L383.49,568.40 L384.07,569.18 L384.68,569.95 L385.30,570.71 L385.93,571.46 L386.58,572.19 L387.25,572.91 L387.93,573.62 L388.63,574.31 L389.34,574.99 L390.07,575.66 L390.81,576.30 L391.57,576.93 L392.34,577.54 L393.12,578.14 L393.91,578.71 L394.72,579.26 L395.54,579.80 L396.37,580.31 L397.21,580.80 L398.07,581.26 L398.93,581.71 L399.81,582.13 L400.69,582.53 L401.59,582.90 L402.50,583.26 L403.41,583.60 L404.34,583.91 L405.27,584.20 L406.21,584.48 L407.16,584.74 L408.12,584.97 L409.08,585.19 L410.05,585.40 L411.03,585.58 L412.01,585.75 L413.00,585.91 L414.00,586.04 L415.00,586.17 L416.00,586.27 L417.01,586.37 L418.03,586.45 L419.04,586.51 L420.06,586.57 L421.09,586.61 L422.12,586.64 L423.15,586.66 L424.18,586.67 L425.21,586.67 L426.25,586.66 L427.29,586.64 L428.32,586.61 L429.36,586.57 L430.40,586.52 L431.44,586.47 L432.48,586.41 L433.51,586.34 L434.55,586.27 L435.58,586.19 L436.62,586.10 L437.65,586.02 L438.67,585.92 L439.70,585.83 L440.72,585.73 L441.74,585.63 L442.75,585.52 L443.77,585.42 L444.77,585.31 L445.78,585.19 L446.78,585.08 L447.79,584.96 L448.78,584.85 L449.78,584.73 L450.78,584.61 L451.77,584.48 L452.76,584.36 L453.75,584.24 L454.73,584.11 L455.72,583.99 L456.70,583.86 L457.68,583.73 L458.66,583.60 L459.64,583.48 L460.62,583.35 L461.60,583.22 L462.58,583.10 L463.56,582.97 L464.53,582.84 L465.51,582.72 L466.48,582.59 L467.46,582.47 L468.43,582.35 L469.41,582.23 L470.39,582.11 L471.36,581.99 L472.34,581.87 L473.32,581.76 L474.30,581.65 L475.27,581.54 L476.25,581.43 L477.24,581.32 L478.22,581.22 L479.20,581.12 L480.19,581.03 L481.17,580.93 L482.16,580.84 L483.15,580.75 L484.14,580.66 L485.13,580.58 L486.12,580.49 L487.11,580.41 L488.10,580.33 L489.10,580.26 L490.09,580.18 L491.09,580.11 L492.08,580.04 L493.08,579.97 L494.08,579.91 L495.08,579.84 L496.08,579.78 L497.08,579.72 L498.08,579.66 L499.08,579.60 L500.08,579.55 L501.08,579.49 L502.09,579.44 L503.09,579.39 L504.09,579.34 L505.10,579.29 L506.10,579.24 L507.11,579.19 L508.12,579.15 L509.12,579.10 L510.13,579.06 L511.13,579.02 L512.14,578.98 L513.15,578.94 L514.16,578.90 L515.16,578.86 L516.17,578.82 L517.18,578.79 L518.19,578.75 L519.19,578.72 L520.20,578.68 L521.21,578.65 L522.22,578.61 L523.23,578.58 L524.23,578.55 L525.24,578.52 L526.25,578.48 L527.25,578.45 L528.26,578.42 L529.27,578.39 L530.28,578.36 L531.28,578.33 L532.29,578.29 L533.29,578.26 L534.30,578.23 L535.30,578.20 L536.31,578.17 L537.31,578.14 L538.31,578.11 L539.32,578.07 L540.32,578.04 L541.32,578.01 L542.32,577.97 L543.32,577.94 L544.32,577.90 L545.32,577.87 L546.32,577.83 L547.32,577.80 L548.32,577.76 L549.32,577.72 L550.31,577.68 L551.31,577.64 L552.31,577.60 L553.30,577.56 L554.30,577.52 L555.30,577.47 L556.29,577.43 L557.29,577.38 L558.28,577.34 L559.28,577.29 L560.27,577.24 L561.27,577.19 L562.26,577.14 L563.25,577.08 L564.25,577.03 L565.24,576.97 L566.24,576.92 L567.23,576.86 L568.22,576.80 L569.22,576.73 L570.21,576.67 L571.20,576.60 L572.20,576.54 L573.19,576.47 L574.18,576.40 L575.18,576.32 L576.17,576.25 L577.17,576.17 L578.16,576.09 L579.15,576.01 L580.15,575.93 L581.14,575.84 L582.14,575.75 L583.13,575.66 L584.13,575.57 L585.13,575.48 L586.12,575.38 L587.12,575.28 L588.11,575.18 L589.11,575.08 L590.11,574.98 L591.11,574.87 L592.10,574.76 L593.10,574.66 L594.10,574.55 L595.10,574.44 L596.10,574.34 L597.09,574.23 L598.09,574.12 L599.09,574.02 L600.09,573.91 L601.09,573.81 L602.09,573.71 L603.09,573.61 L604.09,573.51 L605.09,573.41 L606.09,573.32 L607.09,573.23 L608.09,573.14 L609.09,573.06 L610.09,572.97 L611.09,572.90 L612.09,572.82 L613.09,572.75 L614.09,572.69 L615.09,572.62 L616.09,572.57 L617.09,572.52 L618.09,572.47 L619.09,572.43 L620.09,572.39 L621.09,572.36 L622.09,572.34 L623.09,572.33 L624.09,572.32 L625.09,572.31 L626.09,572.32 L627.09,572.33 L628.09,572.34 L629.09,572.37 L630.09,572.40 L631.09,572.43 L632.09,572.48 L633.08,572.52 L634.08,572.58 L635.08,572.63 L636.08,572.70 L637.08,572.76 L638.08,572.83 L639.08,572.91 L640.08,572.99 L641.08,573.07 L642.07,573.15 L643.07,573.24 L644.07,573.33 L645.07,573.43 L646.07,573.52 L647.07,573.62 L648.06,573.72 L649.06,573.83 L650.06,573.93 L651.06,574.03 L652.06,574.14 L653.06,574.25 L654.05,574.35 L655.05,574.46 L656.05,574.57 L657.05,574.67 L658.05,574.78 L659.04,574.88 L660.04,574.99 L661.04,575.09 L662.04,575.19 L663.04,575.30 L664.03,575.39 L665.03,575.49 L666.03,575.58 L667.03,575.68 L668.03,575.76 L669.03,575.85 L670.02,575.93 L671.02,576.01 L672.02,576.08 L673.02,576.16 L674.02,576.22 L675.01,576.28 L676.01,576.34 L677.01,576.39 L678.01,576.44 L679.01,576.48 L680.01,576.52 L681.01,576.55 L682.00,576.57 L683.00,576.59 L684.00,576.60 L685.00,576.60 L686.00,576.60" stroke="#037d14"/>
<path d="M68.00,622.60 L68.97,622.34 L69.94,622.09 L70.92,621.84 L71.89,621.60 L72.86,621.36 L73.84,621.12 L74.81,620.89 L75.79,620.67 L76.77,620.45 L77.75,620.23 L78.72,620.01 L79.70,619.80 L80.68,619.60 L81.66,619.39 L82.64,619.19 L83.63,618.99 L84.61,618.80 L85.59,618.61 L86.57,618.42 L87.56,618.23 L88.54,618.04 L89.52,617.86 L90.51,617.68 L91.49,617.50 L92.48,617.32 L93.46,617.14 L94.45,616.96 L95.43,616.79 L96.42,616.61 L97.40,616.44 L98.39,616.27 L99.38,616.09 L100.36,615.92 L101.35,615.75 L102.33,615.57 L103.32,615.40 L104.30,615.23 L105.29,615.05 L106.28,614.88 L107.26,614.70 L108.25,614.53 L109.23,614.35 L110.22,614.17 L111.20,613.99 L112.18,613.81 L113.17,613.62 L114.15,613.44 L115.13,613.25 L116.12,613.06 L117.10,612.86 L118.08,612.67 L119.06,612.47 L120.04,612.27 L121.02,612.06 L122.00,611.86 L122.98,611.64 L123.96,611.43 L124.94,611.21 L125.92,610.99 L126.89,610.77 L127.87,610.54 L128.84,610.31 L129.82,610.08 L130.79,609.84 L131.76,609.60 L132.74,609.36 L133.71,609.11 L134.68,608.86 L135.65,608.61 L136.61,608.35 L137.58,608.09 L138.55,607.83 L139.52,607.56 L140.48,607.29 L141.44,607.02 L142.41,606.74 L143.37,606.46 L144.33,606.18 L145.29,605.89 L146.25,605.60 L147.20,605.31 L148.16,605.01 L149.12,604.71 L150.07,604.40 L151.02,604.10 L151.97,603.78 L152.93,603.47 L153.87,603.15 L154.82,602.83 L155.77,602.50 L156.71,602.17 L157.66,601.84 L158.60,601.50 L159.54,601.16 L160.48,600.82 L161.42,600.47 L162.36,600.12 L163.29,599.76 L164.22,599.40 L165.16,599.04 L166.09,598.67 L167.02,598.30 L167.94,597.93 L168.87,597.55 L169.79,597.17 L170.72,596.79 L171.64,596.40 L172.56,596.00 L173.47,595.61 L174.39,595.21 L175.30,594.80 L176.22,594.39 L177.13,593.98 L178.04,593.57 L178.94,593.15 L179.85,592.72 L180.75,592.29 L181.65,591.86 L182.55,591.42 L183.45,590.98 L184.35,590.54 L185.24,590.09 L186.13,589.64 L187.02,589.18 L187.91,588.73 L188.79,588.26 L189.68,587.79 L190.56,587.32 L191.44,586.85 L192.32,586.37 L193.19,585.88 L194.07,585.40 L194.94,584.91 L195.81,584.41 L196.67,583.92 L197.54,583.41 L198.40,582.91 L199.27,582.40 L200.13,581.89 L200.98,581.37 L201.84,580.86 L202.69,580.33 L203.54,579.81 L204.39,579.28 L205.24,578.75 L206.09,578.21 L206.93,577.67 L207.77,577.13 L208.61,576.58 L209.45,576.03 L210.29,575.48 L211.12,574.93 L211.95,574.37 L212.78,573.81 L213.61,573.24 L214.44,572.67 L215.26,572.10 L216.09,571.53 L216.91,570.95 L217.72,570.37 L218.54,569.79 L219.35,569.21 L220.17,568.62 L220.98,568.03 L221.78,567.43 L222.59,566.84 L223.39,566.24 L224.20,565.64 L225.00,565.03 L225.80,564.43 L226.59,563.82 L227.39,563.20 L228.18,562.59 L228.97,561.97 L229.76,561.35 L230.54,560.73 L231.33,560.10 L232.11,559.48 L232.89,558.85 L233.67,558.22 L234.45,557.58 L235.22,556.94 L235.99,556.31 L236.76,555.67 L237.53,555.02 L238.30,554.38 L239.06,553.73 L239.83,553.08 L240.59,552.43 L241.34,551.77 L242.10,551.12 L242.86,550.46 L243.61,549.80 L244.36,549.14 L245.11,548.47 L245.85,547.81 L246.60,547.14 L247.34,546.47 L248.08,545.80 L248.82,545.12 L249.55,544.45 L250.28,543.76 L251.00,543.08 L251.72,542.39 L252.43,541.69 L253.14,540.99 L253.84,540.29 L254.53,539.57 L255.22,538.86 L255.90,538.13 L256.57,537.40 L257.23,536.66 L257.88,535.92 L258.53,535.16 L259.16,534.40 L259.78,533.63 L260.39,532.85 L260.99,532.06 L261.58,531.26 L262.16,530.45 L262.72,529.63 L263.27,528.79 L263.81,527.96 L264.34,527.11 L264.86,526.25 L265.37,525.39 L265.88,524.52 L266.37,523.65 L266.86,522.77 L267.35,521.89 L267.83,521.01 L268.30,520.13 L268.78,519.24 L269.25,518.35 L269.71,517.46 L270.18,516.58 L270.64,515.69 L271.10,514.79 L271.55,513.90 L272.01,513.01 L272.46,512.12 L272.90,511.22 L273.35,510.32 L273.79,509.43 L274.22,508.53 L274.66,507.63 L275.09,506.73 L275.51,505.82 L275.94,504.92 L276.36,504.01 L276.78,503.11 L277.19,502.20 L277.60,501.29 L278.01,500.38 L278.41,499.47 L278.81,498.55 L279.21,497.64 L279.60,496.72 L279.99,495.80 L280.38,494.88 L280.76,493.96 L281.14,493.04 L281.51,492.11 L281.88,491.18 L282.25,490.26 L282.62,489.33 L282.98,488.39 L283.33,487.46 L283.69,486.52 L284.04,485.59 L284.39,484.65 L284.73,483.71 L285.07,482.77 L285.41,481.83 L285.75,480.89 L286.09,479.94 L286.42,479.00 L286.76,478.05 L287.09,477.11 L287.42,476.16 L287.75,475.21 L288.07,474.26 L288.40,473.32 L288.73,472.37 L289.05,471.42 L289.38,470.47 L289.71,469.52 L290.03,468.57 L290.36,467.62 L290.69,466.67 L291.01,465.73 L291.34,464.78 L291.67,463.83 L292.00,462.88 L292.33,461.94 L292.67,460.99 L293.00,460.04 L293.34,459.10 L293.68,458.16 L294.02,457.21 L294.37,456.27 L294.72,455.33 L295.07,454.39 L295.42,453.46 L295.77,452.52 L296.13,451.58 L296.50,450.65 L296.86,449.72 L297.24,448.79 L297.61,447.86 L297.99,446.94 L298.37,446.01 L298.76,445.09 L299.15,444.17 L299.54,443.24 L299.93,442.33 L300.33,441.41 L300.73,440.49 L301.13,439.57 L301.54,438.66 L301.94,437.74 L302.35,436.83 L302.76,435.92 L303.17,435.00 L303.58,434.09 L303.99,433.18 L304.41,432.27 L304.82,431.36 L305.23,430.45 L305.65,429.54 L306.06,428.62 L306.47,427.71 L306.89,426.80 L307.30,425.89 L307.71,424.98 L308.12,424.06 L308.53,423.15 L308.94,422.24 L309.35,421.32 L309.75,420.41 L310.16,419.50 L310.56,418.58 L310.97,417.67 L311.37,416.75 L311.78,415.83 L312.18,414.92 L312.58,414.00 L312.98,413.08 L313.37,412.17 L313.77,411.25 L314.17,410.33 L314.56,409.41 L314.96,408.49 L315.35,407.57 L315.74,406.65 L316.13,405.73 L316.52,404.81 L316.90,403.89 L317.29,402.96 L317.67,402.04 L318.05,401.12 L318.43,400.19 L318.81,399.27 L319.19,398.34 L319.56,397.42 L319.94,396.49 L320.31,395.56 L320.68,394.63 L321.05,393.71 L321.42,392.78 L321.78,391.85 L322.15,390.92 L322.51,389.98 L322.87,389.05 L323.22,388.12 L323.58,387.19 L323.93,386.25 L324.28,385.32 L324.63,384.38 L324.98,383.45 L325.32,382.51 L325.67,381.57 L326.01,380.63 L326.35,379.70 L326.68,378.76 L327.02,377.82 L327.35,376.87 L327.68,375.93 L328.00,374.99 L328.33,374.05 L328.65,373.10 L328.97,372.15 L329.28,371.21 L329.60,370.26 L329.91,369.31 L330.22,368.36 L330.52,367.41 L330.83,366.46 L331.13,365.51 L331.42,364.56 L331.72,363.61 L332.01,362.65 L332.30,361.70 L332.59,360.74 L332.87,359.78 L333.15,358.82 L333.43,357.86 L333.70,356.90 L333.97,355.94 L334.24,354.98 L334.51,354.02 L334.77,353.05 L335.04,352.09 L335.29,351.12 L335.55,350.16 L335.81,349.19 L336.06,348.22 L336.31,347.26 L336.56,346.29 L336.80,345.32 L337.04,344.35 L337.29,343.37 L337.53,342.40 L337.76,341.43 L338.00,340.46 L338.24,339.48 L338.47,338.51 L338.70,337.54 L338.93,336.56 L339.16,335.59 L339.39,334.61 L339.61,333.63 L339.84,332.66 L340.06,331.68 L340.28,330.70 L340.50,329.73 L340.72,328.75 L340.94,327.77 L341.16,326.79 L341.38,325.81 L341.60,324.83 L341.81,323.85 L342.03,322.87 L342.24,321.89 L342.46,320.91 L342.67,319.93 L342.88,318.95 L343.10,317.97 L343.31,316.99 L343.52,316.01 L343.74,315.03 L343.95,314.05 L344.16,313.07 L344.37,312.09 L344.59,311.11 L344.80,310.13 L345.01,309.15 L345.23,308.17 L345.44,307.19 L345.65,306.21 L345.87,305.23 L346.08,304.25 L346.30,303.27 L346.52,302.29 L346.73,301.31 L346.95,300.33 L347.17,299.36 L347.39,298.38 L347.61,297.40 L347.84,296.42 L348.06,295.45 L348.28,294.47 L348.51,293.49 L348.73,292.52 L348.96,291.54 L349.19,290.57 L349.42,289.59 L349.65,288.62 L349.88,287.64 L350.11,286.67 L350.34,285.69 L350.57,284.72 L350.80,283.75 L351.04,282.77 L351.27,281.80 L351.51,280.83 L351.74,279.86 L351.97,278.88 L352.21,277.91 L352.44,276.94 L352.68,275.97 L352.92,274.99 L353.15,274.02 L353.39,273.05 L353.62,272.08 L353.86,271.11 L354.09,270.14 L354.33,269.16 L354.57,268.19 L354.80,267.22 L355.04,266.25 L355.27,265.28 L355.50,264.31 L355.74,263.33 L355.97,262.36 L356.20,261.39 L356.44,260.42 L356.67,259.45 L356.90,258.47 L357.13,257.50 L357.36,256.53 L357.59,255.56 L357.82,254.58 L358.05,253.61 L358.28,252.64 L358.50,251.67 L358.73,250.69 L358.95,249.72 L359.17,248.74 L359.40,247.77 L359.62,246.80 L359.84,245.82 L360.06,244.85 L360.27,243.87 L360.49,242.90 L360.70,241.92 L360.92,240.95 L361.13,239.97 L361.34,238.99 L361.55,238.02 L361.76,237.04 L361.96,236.06 L362.17,235.08 L362.37,234.10 L362.57,233.13 L362.77,232.15 L362.97,231.17 L363.17,230.19 L363.36,229.21 L363.55,228.23 L363.75,227.25 L363.94,226.26 L364.13,225.28 L364.31,224.30 L364.50,223.32 L364.69,222.34 L364.87,221.35 L365.05,220.37 L365.24,219.39 L365.42,218.40 L365.60,217.42 L365.78,216.43 L365.96,215.45 L366.13,214.47 L366.31,213.48 L366.49,212.50 L366.66,211.51 L366.84,210.52 L367.01,209.54 L367.18,208.55 L367.36,207.57 L367.53,206.58 L367.70,205.59 L367.87,204.61 L368.04,203.62 L368.21,202.63 L368.38,201.65 L368.55,200.66 L368.72,199.67 L368.89,198.69 L369.06,197.70 L369.23,196.71 L369.40,195.73 L369.57,194.74 L369.74,193.75 L369.91,192.76 L370.08,191.78 L370.25,190.79 L370.42,189.80 L370.58,188.81 L370.75,187.83 L370.93,186.84 L371.10,185.85 L371.27,184.86 L371.44,183.88 L371.61,182.89 L371.78,181.90 L371.95,180.92 L372.13,179.93 L372.30,178.94 L372.48,177.95 L372.65,176.97 L372.83,175.98 L373.00,174.99 L373.18,174.01 L373.36,173.02 L373.54,172.04 L373.72,171.05 L373.90,170.06 L374.08,169.08 L374.27,168.09 L374.45,167.11 L374.64,166.12 L374.82,165.14 L375.01,164.15 L375.20,163.17 L375.39,162.18 L375.59,161.20 L375.78,160.22 L375.97,159.23 L376.17,158.25 L376.37,157.27 L376.57,156.28 L376.77,155.30 L376.97,154.32 L377.17,153.34 L377.37,152.36 L377.58,151.38 L377.78,150.39 L377.99,149.41 L378.19,148.43 L378.40,147.45 L378.60,146.47 L378.81,145.49 L379.02,144.51 L379.23,143.53 L379.43,142.55 L379.64,141.57 L379.85,140.59 L380.06,139.61 L380.26,138.63 L380.47,137.65 L380.68,136.67 L380.88,135.69 L381.09,134.71 L381.29,133.73 L381.50,132.75 L381.70,131.77 L381.90,130.79 L382.10,129.81 L382.30,128.83 L382.50,127.86 L382.70,126.88 L382.90,125.90 L383.09,124.92 L383.29,123.94 L383.48,122.96 L383.67,121.98 L383.86,121.00 L384.05,120.02 L384.24,119.04 L384.43,118.06 L384.61,117.08 L384.80,116.10 L384.99,115.12 L385.18,114.14 L385.37,113.17 L385.56,112.19 L385.75,111.21 L385.95,110.23 L386.14,109.25 L386.35,108.27 L386.55,107.30 L386.75,106.32 L386.96,105.34 L387.18,104.37 L387.40,103.39 L387.62,102.42 L387.85,101.44 L388.08,100.47 L388.32,99.50 L388.57,98.52 L388.82,97.55 L389.07,96.58 L389.34,95.61 L389.61,94.64 L389.89,93.67 L390.17,92.70 L390.47,91.73 L390.77,90.77 L391.08,89.80 L391.40,88.84 L391.73,87.87 L392.08,86.91 L392.44,85.96 L392.83,85.02 L393.26,84.10 L393.75,83.22 L394.30,82.38 L394.92,81.58 L395.63,80.84 L396.42,80.20 L397.28,79.74 L398.17,79.53 L399.08,79.65 L399.98,80.05 L400.83,80.65 L401.59,81.36 L402.25,82.14 L402.82,82.97 L403.32,83.84 L403.75,84.74 L404.13,85.68 L404.47,86.62 L404.79,87.58 L405.10,88.55 L405.41,89.51 L405.71,90.47 L406.01,91.44 L406.30,92.40 L406.59,93.37 L406.88,94.33 L407.16,95.30 L407.43,96.27 L407.71,97.23 L407.97,98.20 L408.24,99.17 L408.50,100.14 L408.76,101.11 L409.01,102.08 L409.26,103.05 L409.50,104.02 L409.74,104.99 L409.98,105.96 L410.21,106.93 L410.44,107.91 L410.66,108.88 L410.89,109.85 L411.10,110.83 L411.32,111.80 L411.53,112.78 L411.73,113.76 L411.94,114.73 L412.14,115.71 L412.33,116.69 L412.53,117.67 L412.72,118.65 L412.90,119.63 L413.08,120.61 L413.26,121.59 L413.44,122.57 L413.61,123.56 L413.78,124.54 L413.95,125.53 L414.11,126.51 L414.27,127.50 L414.43,128.48 L414.58,129.47 L414.74,130.46 L414.88,131.45 L415.03,132.44 L415.18,133.42 L415.32,134.41 L415.46,135.40 L415.60,136.39 L415.73,137.39 L415.87,138.38 L416.00,139.37 L416.13,140.36 L416.26,141.35 L416.38,142.35 L416.51,143.34 L416.63,144.33 L416.76,145.33 L416.88,146.32 L417.00,147.31 L417.12,148.31 L417.24,149.30 L417.35,150.30 L417.47,151.29 L417.58,152.29 L417.70,153.29 L417.81,154.28 L417.92,155.28 L418.03,156.27 L418.14,157.27 L418.25,158.27 L418.36,159.26 L418.46,160.26 L418.57,161.26 L418.67,162.26 L418.78,163.25 L418.88,164.25 L418.99,165.25 L419.09,166.25 L419.19,167.24 L419.30,168.24 L419.40,169.24 L419.50,170.24 L419.60,171.23 L419.70,172.23 L419.80,173.23 L419.90,174.23 L420.00,175.22 L420.10,176.22 L420.20,177.22 L420.30,178.22 L420.40,179.22 L420.50,180.21 L420.59,181.21 L420.69,182.21 L420.79,183.21 L420.89,184.20 L420.99,185.20 L421.09,186.20 L421.19,187.19 L421.29,188.19 L421.39,189.19 L421.49,190.18 L421.59,191.18 L421.70,192.18 L421.80,193.17 L421.90,194.17 L422.00,195.16 L422.10,196.16 L422.20,197.16 L422.30,198.15 L422.41,199.15 L422.51,200.14 L422.61,201.14 L422.71,202.13 L422.81,203.13 L422.92,204.12 L423.02,205.12 L423.12,206.11 L423.23,207.11 L423.33,208.10 L423.43,209.10 L423.54,210.09 L423.64,211.09 L423.74,212.08 L423.85,213.07 L423.95,214.07 L424.05,215.06 L424.16,216.06 L424.26,217.05 L424.36,218.05 L424.47,219.04 L424.57,220.03 L424.68,221.03 L424.78,222.02 L424.89,223.02 L424.99,224.01 L425.09,225.00 L425.20,226.00 L425.30,226.99 L425.41,227.98 L425.51,228.98 L425.62,229.97 L425.72,230.97 L425.82,231.96 L425.93,232.95 L426.03,233.95 L426.14,234.94 L426.24,235.93 L426.35,236.93 L426.45,237.92 L426.56,238.91 L426.66,239.91 L426.77,240.90 L426.87,241.89 L426.97,242.89 L427.08,243.88 L427.18,244.87 L427.29,245.87 L427.39,246.86 L427.50,247.86 L427.60,248.85 L427.70,249.84 L427.81,250.84 L427.91,251.83 L428.02,252.82 L428.12,253.82 L428.22,254.81 L428.33,255.80 L428.43,256.80 L428.53,257.79 L428.64,258.79 L428.74,259.78 L428.85,260.77 L428.95,261.77 L429.05,262.76 L429.15,263.76 L429.26,264.75 L429.36,265.74 L429.46,266.74 L429.57,267.73 L429.67,268.73 L429.77,269.72 L429.87,270.72 L429.97,271.71 L430.08,272.71 L430.18,273.70 L430.28,274.70 L430.38,275.69 L430.48,276.69 L430.58,277.68 L430.68,278.68 L430.78,279.67 L430.88,280.67 L430.99,281.66 L431.09,282.66 L431.19,283.65 L431.29,284.65 L431.39,285.64 L431.48,286.64 L431.58,287.64 L431.68,288.63 L431.78,289.63 L431.88,290.63 L431.98,291.62 L432.08,292.62 L432.18,293.62 L432.27,294.61 L432.37,295.61 L432.47,296.61 L432.56,297.60 L432.66,298.60 L432.76,299.60 L432.85,300.60 L432.95,301.59 L433.05,302.59 L433.14,303.59 L433.24,304.59 L433.33,305.59 L433.43,306.58 L433.52,307.58 L433.62,308.58 L433.71,309.58 L433.81,310.58 L433.90,311.58 L434.00,312.57 L434.09,313.57 L434.18,314.57 L434.28,315.57 L434.37,316.57 L434.46,317.57 L434.56,318.57 L434.65,319.57 L434.74,320.57 L434.84,321.57 L434.93,322.57 L435.02,323.56 L435.11,324.56 L435.21,325.56 L435.30,326.56 L435.39,327.56 L435.48,328.56 L435.57,329.56 L435.67,330.56 L435.76,331.56 L435.85,332.56 L435.94,333.56 L436.03,334.56 L436.12,335.56 L436.21,336.56 L436.30,337.56 L436.40,338.56 L436.49,339.56 L436.58,340.56 L436.67,341.56 L436.76,342.56 L436.85,343.56 L436.94,344.56 L437.03,345.56 L437.12,346.56 L437.21,347.56 L437.30,348.56 L437.39,349.56 L437.48,350.56 L437.57,351.56 L437.66,352.56 L437.75,353.56 L437.84,354.56 L437.93,355.56 L438.02,356.56 L438.11,357.56 L438.20,358.56 L438.29,359.56 L438.38,360.56 L438.47,361.56 L438.56,362.56 L438.65,363.56 L438.74,364.56 L438.83,365.56 L438.92,366.56 L439.01,367.56 L439.10,368.56 L439.19,369.56 L439.28,370.55 L439.37,371.55 L439.46,372.55 L439.55,373.55 L439.64,374.55 L439.73,375.55 L439.82,376.55 L439.91,377.55 L440.01,378.54 L440.10,379.54 L440.19,380.54 L440.28,381.54 L440.37,382.54 L440.46,383.54 L440.55,384.53 L440.64,385.53 L440.73,386.53 L440.82,387.53 L440.91,388.53 L441.01,389.52 L441.10,390.52 L441.19,391.52 L441.28,392.51 L441.37,393.51 L441.47,394.51 L441.56,395.51 L441.65,396.50 L441.74,397.50 L441.83,398.49 L441.93,399.49 L442.02,400.49 L442.11,401.48 L442.21,402.48 L442.30,403.47 L442.39,404.47 L442.49,405.46 L442.58,406.46 L442.67,407.46 L442.77,408.45 L442.86,409.44 L442.96,410.44 L443.05,411.43 L443.14,412.43 L443.24,413.42 L443.33,414.42 L443.43,415.41 L443.53,416.40 L443.62,417.40 L443.72,418.39 L443.81,419.38 L443.91,420.37 L444.01,421.37 L444.10,422.36 L444.20,423.35 L444.30,424.34 L444.39,425.34 L444.49,426.33 L444.59,427.32 L444.69,428.31 L444.79,429.30 L444.89,430.29 L444.99,431.28 L445.09,432.27 L445.19,433.26 L445.29,434.25 L445.39,435.24 L445.50,436.23 L445.60,437.22 L445.70,438.21 L445.81,439.20 L445.91,440.19 L446.02,441.18 L446.12,442.17 L446.23,443.16 L446.34,444.15 L446.45,445.14 L446.56,446.13 L446.67,447.12 L446.78,448.11 L446.89,449.10 L447.00,450.08 L447.12,451.07 L447.23,452.06 L447.35,453.05 L447.47,454.04 L447.58,455.03 L447.70,456.01 L447.82,457.00 L447.94,457.99 L448.07,458.98 L448.19,459.97 L448.31,460.96 L448.44,461.94 L448.57,462.93 L448.70,463.92 L448.83,464.91 L448.96,465.89 L449.09,466.88 L449.22,467.87 L449.36,468.86 L449.49,469.85 L449.63,470.83 L449.77,471.82 L449.91,472.81 L450.05,473.80 L450.19,474.79 L450.34,475.77 L450.49,476.76 L450.63,477.75 L450.78,478.74 L450.93,479.72 L451.09,480.71 L451.24,481.70 L451.40,482.69 L451.56,483.68 L451.72,484.67 L451.88,485.65 L452.04,486.64 L452.20,487.63 L452.37,488.62 L452.54,489.61 L452.71,490.60 L452.88,491.58 L453.06,492.57 L453.23,493.56 L453.41,494.55 L453.59,495.54 L453.77,496.53 L453.96,497.52 L454.14,498.51 L454.33,499.50 L454.52,500.49 L454.72,501.48 L454.91,502.47 L455.11,503.46 L455.31,504.45 L455.51,505.44 L455.71,506.43 L455.92,507.42 L456.13,508.41 L456.34,509.40 L456.55,510.39 L456.77,511.38 L456.98,512.37 L457.20,513.36 L457.43,514.35 L457.65,515.35 L457.88,516.34 L458.11,517.33 L458.34,518.32 L458.58,519.32 L458.81,520.31 L459.05,521.30 L459.30,522.29 L459.54,523.29 L459.79,524.28 L460.04,525.27 L460.30,526.27 L460.55,527.26 L460.81,528.26 L461.07,529.25 L461.34,530.24 L461.61,531.24 L461.88,532.23 L462.16,533.22 L462.44,534.21 L462.73,535.20 L463.02,536.18 L463.31,537.16 L463.62,538.14 L463.93,539.11 L464.24,540.08 L464.56,541.05 L464.89,542.01 L465.23,542.96 L465.57,543.91 L465.93,544.86 L466.29,545.79 L466.66,546.72 L467.04,547.64 L467.43,548.56 L467.82,549.47 L468.23,550.36 L468.65,551.25 L469.08,552.13 L469.52,553.01 L469.97,553.87 L470.43,554.72 L470.90,555.56 L471.39,556.39 L471.89,557.20 L472.40,558.01 L472.93,558.80 L473.47,559.58 L474.02,560.35 L474.59,561.11 L475.17,561.85 L475.76,562.57 L476.38,563.29 L477.00,563.98 L477.65,564.67 L478.30,565.33 L478.98,565.98 L479.67,566.62 L480.38,567.23 L481.11,567.83 L481.85,568.41 L482.61,568.98 L483.39,569.52 L484.19,570.05 L485.01,570.56 L485.84,571.05 L486.69,571.52 L487.56,571.98 L488.44,572.42 L489.34,572.84 L490.25,573.25 L491.17,573.64 L492.11,574.02 L493.05,574.39 L494.01,574.73 L494.98,575.07 L495.96,575.39 L496.94,575.70 L497.94,576.00 L498.94,576.29 L499.94,576.57 L500.96,576.83 L501.98,577.09 L503.00,577.33 L504.03,577.57 L505.06,577.79 L506.09,578.01 L507.12,578.22 L508.16,578.42 L509.19,578.62 L510.22,578.80 L511.26,578.99 L512.29,579.16 L513.31,579.33 L514.34,579.50 L515.36,579.66 L516.38,579.81 L517.39,579.96 L518.41,580.11 L519.42,580.25 L520.43,580.38 L521.43,580.51 L522.44,580.64 L523.44,580.76 L524.44,580.88 L525.43,580.99 L526.43,581.09 L527.42,581.20 L528.42,581.29 L529.41,581.39 L530.40,581.47 L531.38,581.56 L532.37,581.64 L533.36,581.71 L534.34,581.78 L535.32,581.85 L536.31,581.91 L537.29,581.97 L538.27,582.02 L539.25,582.07 L540.24,582.11 L541.22,582.15 L542.20,582.19 L543.18,582.22 L544.16,582.25 L545.14,582.27 L546.12,582.29 L547.11,582.31 L548.09,582.32 L549.07,582.33 L550.06,582.34 L551.04,582.34 L552.03,582.34 L553.02,582.33 L554.00,582.32 L554.99,582.31 L555.98,582.29 L556.97,582.27 L557.96,582.25 L558.95,582.22 L559.95,582.19 L560.94,582.16 L561.93,582.13 L562.93,582.09 L563.92,582.05 L564.92,582.01 L565.92,581.97 L566.91,581.92 L567.91,581.88 L568.91,581.83 L569.91,581.77 L570.91,581.72 L571.91,581.66 L572.91,581.61 L573.91,581.55 L574.91,581.49 L575.91,581.43 L576.91,581.37 L577.91,581.30 L578.92,581.24 L579.92,581.17 L580.92,581.11 L581.93,581.04 L582.93,580.97 L583.94,580.90 L584.94,580.83 L585.95,580.76 L586.95,580.70 L587.96,580.63 L588.96,580.56 L589.97,580.49 L590.97,580.42 L591.98,580.35 L592.99,580.28 L593.99,580.21 L595.00,580.14 L596.00,580.08 L597.01,580.01 L598.02,579.95 L599.02,579.88 L600.03,579.82 L601.04,579.75 L602.04,579.69 L603.05,579.63 L604.05,579.58 L605.06,579.52 L606.07,579.46 L607.07,579.41 L608.08,579.36 L609.08,579.31 L610.09,579.26 L611.09,579.21 L612.10,579.17 L613.10,579.13 L614.11,579.09 L615.11,579.05 L616.11,579.02 L617.12,578.99 L618.12,578.96 L619.12,578.94 L620.12,578.91 L621.12,578.90 L622.13,578.88 L623.13,578.87 L624.13,578.86 L625.13,578.85 L626.13,578.85 L627.12,578.85 L628.12,578.85 L629.12,578.86 L630.12,578.87 L631.12,578.89 L632.11,578.91 L633.11,578.93 L634.11,578.95 L635.10,578.98 L636.10,579.01 L637.09,579.04 L638.09,579.07 L639.08,579.11 L640.08,579.15 L641.07,579.19 L642.06,579.24 L643.06,579.28 L644.05,579.33 L645.05,579.38 L646.04,579.44 L647.03,579.49 L648.03,579.55 L649.02,579.61 L650.02,579.67 L651.01,579.73 L652.00,579.80 L653.00,579.86 L653.99,579.93 L654.99,580.00 L655.98,580.07 L656.98,580.14 L657.97,580.21 L658.97,580.28 L659.96,580.36 L660.96,580.43 L661.95,580.51 L662.95,580.59 L663.95,580.66 L664.94,580.74 L665.94,580.82 L666.94,580.90 L667.94,580.98 L668.93,581.06 L669.93,581.14 L670.93,581.22 L671.93,581.30 L672.93,581.38 L673.94,581.46 L674.94,581.54 L675.94,581.62 L676.94,581.70 L677.95,581.78 L678.95,581.86 L679.95,581.94 L680.96,582.02 L681.97,582.10 L682.97,582.17 L683.98,582.25 L684.99,582.33 L686.00,582.40" stroke="#f0640a"/>
<path d="M68.00,617.50 L68.95,617.19 L69.90,616.89 L70.85,616.60 L71.80,616.32 L72.76,616.05 L73.73,615.79 L74.69,615.54 L75.66,615.29 L76.63,615.06 L77.60,614.83 L78.58,614.62 L79.55,614.41 L80.53,614.21 L81.52,614.01 L82.50,613.82 L83.49,613.64 L84.48,613.46 L85.47,613.29 L86.46,613.13 L87.45,612.96 L88.44,612.81 L89.44,612.66 L90.44,612.51 L91.43,612.36 L92.43,612.22 L93.43,612.08 L94.43,611.95 L95.43,611.81 L96.43,611.68 L97.44,611.55 L98.44,611.42 L99.44,611.29 L100.44,611.16 L101.44,611.03 L102.45,610.90 L103.45,610.77 L104.45,610.64 L105.45,610.51 L106.45,610.38 L107.45,610.24 L108.45,610.11 L109.45,609.97 L110.45,609.82 L111.44,609.68 L112.44,609.53 L113.43,609.37 L114.42,609.21 L115.41,609.05 L116.40,608.88 L117.39,608.71 L118.37,608.53 L119.36,608.34 L120.34,608.15 L121.32,607.95 L122.29,607.75 L123.27,607.54 L124.24,607.32 L125.21,607.10 L126.18,606.87 L127.15,606.63 L128.11,606.39 L129.07,606.14 L130.04,605.89 L131.00,605.63 L131.95,605.37 L132.91,605.10 L133.86,604.82 L134.82,604.54 L135.77,604.26 L136.72,603.97 L137.67,603.68 L138.62,603.38 L139.56,603.08 L140.51,602.77 L141.45,602.46 L142.39,602.14 L143.33,601.82 L144.27,601.50 L145.21,601.17 L146.15,600.84 L147.09,600.50 L148.02,600.16 L148.96,599.82 L149.89,599.48 L150.83,599.13 L151.76,598.78 L152.69,598.43 L153.62,598.07 L154.55,597.71 L155.49,597.35 L156.41,596.98 L157.34,596.62 L158.27,596.25 L159.20,595.88 L160.13,595.51 L161.06,595.13 L161.99,594.76 L162.91,594.38 L163.84,594.00 L164.77,593.62 L165.70,593.24 L166.62,592.85 L167.55,592.47 L168.48,592.08 L169.40,591.70 L170.33,591.31 L171.26,590.92 L172.19,590.54 L173.12,590.15 L174.04,589.76 L174.97,589.37 L175.90,588.98 L176.83,588.59 L177.76,588.21 L178.69,587.82 L179.62,587.42 L180.55,587.03 L181.48,586.64 L182.40,586.24 L183.33,585.84 L184.25,585.44 L185.18,585.04 L186.10,584.64 L187.02,584.23 L187.94,583.82 L188.85,583.40 L189.77,582.98 L190.68,582.56 L191.59,582.14 L192.49,581.70 L193.39,581.27 L194.29,580.83 L195.19,580.38 L196.08,579.93 L196.97,579.47 L197.85,579.01 L198.73,578.54 L199.60,578.06 L200.47,577.58 L201.34,577.09 L202.20,576.59 L203.06,576.09 L203.91,575.58 L204.75,575.06 L205.59,574.53 L206.43,574.00 L207.26,573.46 L208.09,572.91 L208.91,572.36 L209.73,571.80 L210.54,571.24 L211.36,570.67 L212.17,570.10 L212.97,569.52 L213.78,568.94 L214.58,568.35 L215.38,567.76 L216.18,567.17 L216.97,566.57 L217.77,565.98 L218.56,565.37 L219.35,564.77 L220.14,564.17 L220.93,563.56 L221.73,562.95 L222.52,562.34 L223.31,561.73 L224.10,561.12 L224.89,560.51 L225.68,559.90 L226.48,559.29 L227.27,558.68 L228.07,558.07 L228.86,557.46 L229.66,556.85 L230.45,556.24 L231.25,555.63 L232.04,555.01 L232.84,554.40 L233.63,553.78 L234.43,553.17 L235.22,552.55 L236.01,551.93 L236.80,551.31 L237.59,550.69 L238.38,550.07 L239.17,549.44 L239.96,548.82 L240.74,548.19 L241.52,547.56 L242.30,546.93 L243.08,546.29 L243.86,545.65 L244.64,545.02 L245.41,544.37 L246.18,543.73 L246.95,543.08 L247.71,542.43 L248.47,541.78 L249.23,541.12 L249.99,540.46 L250.74,539.80 L251.49,539.13 L252.24,538.46 L252.98,537.79 L253.72,537.11 L254.46,536.43 L255.19,535.75 L255.92,535.06 L256.64,534.37 L257.36,533.67 L258.07,532.97 L258.78,532.27 L259.49,531.56 L260.19,530.84 L260.89,530.12 L261.58,529.40 L262.26,528.67 L262.94,527.94 L263.62,527.20 L264.29,526.46 L264.95,525.71 L265.62,524.96 L266.27,524.21 L266.92,523.45 L267.57,522.68 L268.20,521.92 L268.84,521.14 L269.47,520.37 L270.09,519.59 L270.71,518.80 L271.32,518.01 L271.93,517.22 L272.53,516.42 L273.12,515.62 L273.71,514.82 L274.29,514.01 L274.87,513.20 L275.44,512.38 L276.01,511.56 L276.57,510.73 L277.12,509.91 L277.67,509.07 L278.21,508.24 L278.74,507.40 L279.27,506.56 L279.80,505.71 L280.31,504.86 L280.82,504.01 L281.33,503.15 L281.82,502.29 L282.31,501.42 L282.80,500.55 L283.28,499.68 L283.75,498.81 L284.21,497.93 L284.67,497.05 L285.13,496.17 L285.58,495.28 L286.02,494.39 L286.46,493.50 L286.89,492.60 L287.32,491.70 L287.74,490.80 L288.16,489.90 L288.57,488.99 L288.98,488.09 L289.39,487.18 L289.79,486.26 L290.19,485.35 L290.58,484.43 L290.97,483.51 L291.35,482.59 L291.74,481.67 L292.11,480.74 L292.49,479.82 L292.86,478.89 L293.23,477.96 L293.60,477.03 L293.96,476.09 L294.32,475.16 L294.68,474.22 L295.04,473.29 L295.39,472.35 L295.75,471.41 L296.10,470.47 L296.45,469.53 L296.79,468.59 L297.14,467.64 L297.48,466.70 L297.83,465.75 L298.17,464.81 L298.51,463.86 L298.85,462.92 L299.20,461.97 L299.54,461.03 L299.88,460.08 L300.22,459.13 L300.55,458.18 L300.89,457.24 L301.23,456.29 L301.58,455.34 L301.92,454.40 L302.26,453.45 L302.60,452.50 L302.94,451.56 L303.29,450.61 L303.63,449.67 L303.98,448.72 L304.33,447.78 L304.68,446.84 L305.03,445.89 L305.39,444.95 L305.74,444.01 L306.10,443.07 L306.46,442.14 L306.82,441.20 L307.19,440.26 L307.56,439.33 L307.93,438.40 L308.30,437.47 L308.68,436.54 L309.06,435.61 L309.44,434.68 L309.83,433.76 L310.22,432.83 L310.61,431.91 L311.00,430.99 L311.40,430.07 L311.80,429.15 L312.20,428.23 L312.60,427.31 L313.01,426.40 L313.42,425.48 L313.82,424.57 L314.24,423.66 L314.65,422.74 L315.06,421.83 L315.48,420.92 L315.90,420.01 L316.32,419.11 L316.74,418.20 L317.16,417.29 L317.58,416.38 L318.01,415.48 L318.43,414.57 L318.86,413.67 L319.29,412.76 L319.72,411.86 L320.14,410.96 L320.57,410.05 L321.00,409.15 L321.43,408.25 L321.87,407.35 L322.30,406.45 L322.73,405.54 L323.16,404.64 L323.59,403.74 L324.02,402.84 L324.46,401.94 L324.89,401.04 L325.32,400.14 L325.75,399.23 L326.18,398.33 L326.61,397.43 L327.04,396.53 L327.47,395.63 L327.90,394.73 L328.32,393.82 L328.75,392.92 L329.18,392.02 L329.60,391.11 L330.02,390.21 L330.44,389.30 L330.87,388.40 L331.28,387.49 L331.70,386.59 L332.12,385.68 L332.53,384.77 L332.94,383.86 L333.36,382.95 L333.76,382.04 L334.17,381.13 L334.58,380.22 L334.98,379.31 L335.38,378.40 L335.78,377.48 L336.17,376.57 L336.57,375.65 L336.96,374.73 L337.35,373.81 L337.73,372.89 L338.11,371.97 L338.49,371.05 L338.87,370.12 L339.24,369.20 L339.61,368.27 L339.98,367.34 L340.35,366.41 L340.71,365.48 L341.07,364.55 L341.42,363.62 L341.78,362.69 L342.13,361.75 L342.47,360.81 L342.82,359.88 L343.16,358.94 L343.50,358.00 L343.84,357.06 L344.17,356.12 L344.51,355.17 L344.84,354.23 L345.17,353.28 L345.49,352.34 L345.82,351.39 L346.14,350.44 L346.46,349.50 L346.78,348.55 L347.09,347.60 L347.41,346.65 L347.72,345.70 L348.03,344.74 L348.34,343.79 L348.64,342.84 L348.95,341.88 L349.25,340.93 L349.55,339.97 L349.85,339.02 L350.15,338.06 L350.45,337.10 L350.74,336.15 L351.04,335.19 L351.33,334.23 L351.62,333.27 L351.92,332.31 L352.20,331.35 L352.49,330.39 L352.78,329.43 L353.07,328.47 L353.35,327.51 L353.64,326.55 L353.92,325.59 L354.21,324.63 L354.49,323.67 L354.77,322.70 L355.05,321.74 L355.33,320.78 L355.61,319.82 L355.89,318.86 L356.17,317.89 L356.45,316.93 L356.73,315.97 L357.00,315.01 L357.28,314.04 L357.56,313.08 L357.84,312.12 L358.11,311.16 L358.39,310.20 L358.67,309.24 L358.95,308.27 L359.22,307.31 L359.50,306.35 L359.78,305.39 L360.06,304.43 L360.33,303.47 L360.61,302.51 L360.89,301.55 L361.16,300.59 L361.44,299.63 L361.72,298.67 L362.00,297.71 L362.27,296.75 L362.55,295.80 L362.83,294.84 L363.11,293.88 L363.38,292.92 L363.66,291.96 L363.94,291.00 L364.21,290.04 L364.49,289.08 L364.77,288.13 L365.04,287.17 L365.32,286.21 L365.60,285.25 L365.87,284.29 L366.15,283.34 L366.43,282.38 L366.70,281.42 L366.98,280.46 L367.25,279.50 L367.53,278.54 L367.80,277.59 L368.08,276.63 L368.36,275.67 L368.63,274.71 L368.91,273.75 L369.18,272.80 L369.45,271.84 L369.73,270.88 L370.00,269.92 L370.28,268.96 L370.55,268.00 L370.82,267.04 L371.10,266.09 L371.37,265.13 L371.64,264.17 L371.92,263.21 L372.19,262.25 L372.46,261.29 L372.73,260.33 L373.00,259.37 L373.28,258.41 L373.55,257.45 L373.82,256.49 L374.09,255.53 L374.36,254.57 L374.63,253.61 L374.90,252.65 L375.17,251.69 L375.44,250.72 L375.70,249.76 L375.97,248.80 L376.24,247.84 L376.51,246.88 L376.77,245.91 L377.04,244.95 L377.31,243.99 L377.57,243.03 L377.83,242.06 L378.10,241.10 L378.36,240.13 L378.62,239.17 L378.88,238.20 L379.14,237.24 L379.40,236.27 L379.66,235.31 L379.92,234.34 L380.18,233.38 L380.43,232.41 L380.69,231.44 L380.94,230.48 L381.19,229.51 L381.45,228.54 L381.70,227.57 L381.95,226.61 L382.19,225.64 L382.44,224.67 L382.69,223.70 L382.93,222.73 L383.18,221.76 L383.42,220.79 L383.66,219.82 L383.90,218.84 L384.14,217.87 L384.37,216.90 L384.61,215.93 L384.84,214.96 L385.08,213.98 L385.31,213.01 L385.54,212.03 L385.76,211.06 L385.99,210.08 L386.21,209.11 L386.44,208.13 L386.66,207.16 L386.88,206.18 L387.09,205.20 L387.31,204.22 L387.53,203.25 L387.74,202.27 L387.96,201.29 L388.17,200.31 L388.38,199.33 L388.59,198.35 L388.80,197.37 L389.01,196.39 L389.21,195.41 L389.42,194.43 L389.63,193.45 L389.83,192.47 L390.04,191.49 L390.24,190.51 L390.45,189.53 L390.65,188.55 L390.85,187.57 L391.06,186.59 L391.26,185.61 L391.46,184.63 L391.67,183.64 L391.87,182.66 L392.07,181.68 L392.28,180.70 L392.48,179.72 L392.69,178.74 L392.89,177.76 L393.09,176.78 L393.30,175.80 L393.51,174.82 L393.71,173.84 L393.92,172.86 L394.13,171.88 L394.34,170.90 L394.55,169.92 L394.76,168.94 L394.97,167.96 L395.18,166.98 L395.39,166.01 L395.61,165.03 L395.83,164.05 L396.04,163.07 L396.26,162.10 L396.48,161.12 L396.70,160.15 L396.93,159.17 L397.15,158.20 L397.38,157.22 L397.61,156.25 L397.84,155.27 L398.07,154.30 L398.30,153.33 L398.53,152.35 L398.77,151.38 L399.00,150.41 L399.24,149.44 L399.48,148.47 L399.71,147.50 L399.95,146.53 L400.19,145.55 L400.44,144.58 L400.68,143.61 L400.92,142.64 L401.17,141.67 L401.41,140.70 L401.66,139.73 L401.90,138.77 L402.15,137.80 L402.40,136.83 L402.64,135.86 L402.89,134.89 L403.14,133.92 L403.39,132.95 L403.64,131.98 L403.89,131.01 L404.14,130.04 L404.39,129.07 L404.64,128.10 L404.88,127.13 L405.13,126.17 L405.38,125.20 L405.63,124.23 L405.88,123.26 L406.13,122.29 L406.38,121.32 L406.63,120.35 L406.88,119.38 L407.13,118.41 L407.38,117.43 L407.62,116.46 L407.87,115.49 L408.12,114.52 L408.36,113.55 L408.61,112.58 L408.85,111.60 L409.10,110.63 L409.34,109.66 L409.58,108.68 L409.82,107.71 L410.06,106.74 L410.30,105.76 L410.54,104.79 L410.78,103.81 L411.01,102.83 L411.25,101.86 L411.48,100.88 L411.72,99.90 L411.95,98.93 L412.19,97.95 L412.44,96.98 L412.70,96.01 L412.97,95.05 L413.25,94.09 L413.54,93.14 L413.86,92.19 L414.19,91.26 L414.54,90.33 L414.92,89.41 L415.32,88.50 L415.75,87.60 L416.20,86.72 L416.69,85.84 L417.22,84.98 L417.78,84.14 L418.37,83.31 L419.01,82.50 L419.69,81.70 L420.41,80.92 L421.18,80.21 L421.99,79.66 L422.84,79.38 L423.73,79.44 L424.64,79.83 L425.53,80.44 L426.37,81.18 L427.13,81.97 L427.82,82.76 L428.44,83.58 L429.00,84.41 L429.50,85.26 L429.96,86.13 L430.38,87.01 L430.77,87.90 L431.14,88.80 L431.48,89.72 L431.81,90.65 L432.12,91.58 L432.41,92.53 L432.68,93.48 L432.94,94.45 L433.19,95.42 L433.43,96.39 L433.66,97.37 L433.88,98.35 L434.09,99.34 L434.30,100.32 L434.51,101.31 L434.71,102.30 L434.91,103.29 L435.11,104.28 L435.31,105.27 L435.50,106.26 L435.69,107.24 L435.89,108.23 L436.08,109.22 L436.26,110.21 L436.45,111.20 L436.64,112.18 L436.82,113.17 L437.00,114.16 L437.18,115.15 L437.36,116.14 L437.54,117.12 L437.71,118.11 L437.89,119.10 L438.06,120.09 L438.23,121.08 L438.40,122.06 L438.57,123.05 L438.74,124.04 L438.90,125.03 L439.07,126.02 L439.23,127.00 L439.39,127.99 L439.55,128.98 L439.71,129.97 L439.87,130.96 L440.03,131.95 L440.18,132.93 L440.34,133.92 L440.49,134.91 L440.65,135.90 L440.80,136.89 L440.95,137.88 L441.10,138.87 L441.25,139.85 L441.39,140.84 L441.54,141.83 L441.69,142.82 L441.83,143.81 L441.98,144.80 L442.12,145.79 L442.26,146.78 L442.40,147.77 L442.55,148.76 L442.69,149.75 L442.83,150.74 L442.96,151.73 L443.10,152.72 L443.24,153.71 L443.37,154.70 L443.51,155.69 L443.65,156.68 L443.78,157.67 L443.91,158.66 L444.04,159.66 L444.18,160.65 L444.31,161.64 L444.44,162.63 L444.57,163.62 L444.70,164.61 L444.82,165.60 L444.95,166.60 L445.08,167.59 L445.20,168.58 L445.33,169.57 L445.45,170.57 L445.58,171.56 L445.70,172.55 L445.82,173.54 L445.95,174.53 L446.07,175.53 L446.19,176.52 L446.31,177.51 L446.43,178.51 L446.55,179.50 L446.67,180.49 L446.78,181.49 L446.90,182.48 L447.02,183.47 L447.13,184.47 L447.25,185.46 L447.37,186.45 L447.48,187.45 L447.59,188.44 L447.71,189.43 L447.82,190.43 L447.93,191.42 L448.04,192.42 L448.15,193.41 L448.27,194.41 L448.38,195.40 L448.49,196.39 L448.59,197.39 L448.70,198.38 L448.81,199.38 L448.92,200.37 L449.03,201.37 L449.13,202.36 L449.24,203.36 L449.35,204.35 L449.45,205.35 L449.56,206.34 L449.66,207.34 L449.77,208.33 L449.87,209.33 L449.97,210.32 L450.08,211.32 L450.18,212.32 L450.28,213.31 L450.39,214.31 L450.49,215.30 L450.59,216.30 L450.69,217.29 L450.79,218.29 L450.89,219.29 L450.99,220.28 L451.09,221.28 L451.19,222.27 L451.29,223.27 L451.39,224.27 L451.49,225.26 L451.59,226.26 L451.68,227.25 L451.78,228.25 L451.88,229.25 L451.98,230.24 L452.07,231.24 L452.17,232.24 L452.27,233.23 L452.36,234.23 L452.46,235.23 L452.55,236.22 L452.65,237.22 L452.75,238.22 L452.84,239.21 L452.94,240.21 L453.03,241.21 L453.12,242.21 L453.22,243.20 L453.31,244.20 L453.41,245.20 L453.50,246.19 L453.60,247.19 L453.69,248.19 L453.78,249.18 L453.88,250.18 L453.97,251.18 L454.06,252.18 L454.16,253.17 L454.25,254.17 L454.34,255.17 L454.44,256.17 L454.53,257.16 L454.62,258.16 L454.71,259.16 L454.81,260.16 L454.90,261.15 L454.99,262.15 L455.09,263.15 L455.18,264.15 L455.27,265.14 L455.36,266.14 L455.46,267.14 L455.55,268.14 L455.64,269.13 L455.73,270.13 L455.83,271.13 L455.92,272.13 L456.01,273.12 L456.10,274.12 L456.20,275.12 L456.29,276.12 L456.38,277.11 L456.48,278.11 L456.57,279.11 L456.66,280.11 L456.75,281.10 L456.85,282.10 L456.94,283.10 L457.03,284.10 L457.13,285.10 L457.22,286.09 L457.31,287.09 L457.41,288.09 L457.50,289.09 L457.59,290.08 L457.68,291.08 L457.78,292.08 L457.87,293.08 L457.96,294.07 L458.06,295.07 L458.15,296.07 L458.25,297.07 L458.34,298.07 L458.43,299.06 L458.53,300.06 L458.62,301.06 L458.71,302.06 L458.81,303.05 L458.90,304.05 L458.99,305.05 L459.09,306.05 L459.18,307.04 L459.28,308.04 L459.37,309.04 L459.46,310.04 L459.56,311.03 L459.65,312.03 L459.75,313.03 L459.84,314.03 L459.94,315.02 L460.03,316.02 L460.12,317.02 L460.22,318.02 L460.31,319.01 L460.41,320.01 L460.50,321.01 L460.60,322.01 L460.69,323.00 L460.79,324.00 L460.88,325.00 L460.98,326.00 L461.07,326.99 L461.17,327.99 L461.26,328.99 L461.36,329.99 L461.45,330.98 L461.55,331.98 L461.64,332.98 L461.74,333.97 L461.83,334.97 L461.93,335.97 L462.02,336.97 L462.12,337.96 L462.22,338.96 L462.31,339.96 L462.41,340.95 L462.50,341.95 L462.60,342.95 L462.70,343.94 L462.79,344.94 L462.89,345.94 L462.98,346.93 L463.08,347.93 L463.18,348.93 L463.27,349.92 L463.37,350.92 L463.47,351.92 L463.56,352.91 L463.66,353.91 L463.76,354.91 L463.85,355.90 L463.95,356.90 L464.05,357.90 L464.15,358.89 L464.24,359.89 L464.34,360.89 L464.44,361.88 L464.53,362.88 L464.63,363.87 L464.73,364.87 L464.83,365.87 L464.93,366.86 L465.02,367.86 L465.12,368.85 L465.22,369.85 L465.32,370.85 L465.42,371.84 L465.51,372.84 L465.61,373.83 L465.71,374.83 L465.81,375.82 L465.91,376.82 L466.01,377.81 L466.11,378.81 L466.21,379.81 L466.30,380.80 L466.40,381.80 L466.50,382.79 L466.60,383.79 L466.70,384.78 L466.80,385.78 L466.90,386.77 L467.00,387.77 L467.10,388.76 L467.20,389.76 L467.30,390.75 L467.40,391.75 L467.50,392.74 L467.60,393.74 L467.70,394.73 L467.80,395.72 L467.90,396.72 L468.00,397.71 L468.10,398.71 L468.20,399.70 L468.31,400.70 L468.41,401.69 L468.51,402.68 L468.61,403.68 L468.71,404.67 L468.81,405.67 L468.92,406.66 L469.02,407.65 L469.12,408.65 L469.22,409.64 L469.33,410.64 L469.43,411.63 L469.53,412.62 L469.64,413.62 L469.74,414.61 L469.85,415.60 L469.95,416.60 L470.06,417.59 L470.16,418.58 L470.27,419.58 L470.37,420.57 L470.48,421.56 L470.59,422.56 L470.69,423.55 L470.80,424.54 L470.91,425.54 L471.02,426.53 L471.13,427.52 L471.23,428.51 L471.34,429.51 L471.45,430.50 L471.56,431.49 L471.67,432.49 L471.79,433.48 L471.90,434.47 L472.01,435.46 L472.12,436.46 L472.23,437.45 L472.35,438.44 L472.46,439.43 L472.58,440.43 L472.69,441.42 L472.81,442.41 L472.92,443.40 L473.04,444.40 L473.16,445.39 L473.28,446.38 L473.39,447.37 L473.51,448.37 L473.63,449.36 L473.75,450.35 L473.87,451.34 L474.00,452.34 L474.12,453.33 L474.24,454.32 L474.36,455.31 L474.49,456.30 L474.61,457.30 L474.74,458.29 L474.87,459.28 L474.99,460.27 L475.12,461.27 L475.25,462.26 L475.38,463.25 L475.51,464.24 L475.64,465.23 L475.77,466.23 L475.90,467.22 L476.04,468.21 L476.17,469.20 L476.30,470.20 L476.44,471.19 L476.57,472.18 L476.71,473.17 L476.85,474.16 L476.99,475.16 L477.13,476.15 L477.27,477.14 L477.41,478.13 L477.55,479.12 L477.69,480.12 L477.84,481.11 L477.98,482.10 L478.13,483.09 L478.28,484.08 L478.42,485.08 L478.57,486.07 L478.72,487.06 L478.87,488.05 L479.02,489.05 L479.18,490.04 L479.33,491.03 L479.48,492.02 L479.64,493.01 L479.80,494.01 L479.95,495.00 L480.11,495.99 L480.27,496.98 L480.43,497.98 L480.60,498.97 L480.76,499.96 L480.92,500.95 L481.09,501.94 L481.25,502.94 L481.42,503.93 L481.59,504.92 L481.76,505.91 L481.93,506.91 L482.10,507.90 L482.27,508.89 L482.45,509.88 L482.62,510.88 L482.80,511.87 L482.98,512.86 L483.16,513.86 L483.34,514.85 L483.52,515.84 L483.70,516.83 L483.89,517.83 L484.07,518.82 L484.26,519.81 L484.45,520.80 L484.64,521.80 L484.83,522.79 L485.02,523.78 L485.21,524.77 L485.41,525.76 L485.61,526.75 L485.82,527.74 L486.03,528.73 L486.24,529.72 L486.45,530.70 L486.67,531.69 L486.90,532.67 L487.12,533.65 L487.36,534.62 L487.60,535.60 L487.84,536.57 L488.10,537.54 L488.35,538.51 L488.62,539.47 L488.89,540.43 L489.17,541.39 L489.45,542.34 L489.74,543.30 L490.05,544.24 L490.35,545.19 L490.67,546.12 L491.00,547.06 L491.33,547.99 L491.68,548.92 L492.03,549.84 L492.40,550.75 L492.77,551.66 L493.16,552.57 L493.55,553.47 L493.96,554.37 L494.38,555.26 L494.81,556.14 L495.25,557.02 L495.71,557.89 L496.17,558.75 L496.65,559.61 L497.14,560.47 L497.65,561.31 L498.17,562.15 L498.70,562.98 L499.25,563.80 L499.81,564.62 L500.38,565.43 L500.97,566.23 L501.58,567.02 L502.20,567.81 L502.83,568.58 L503.47,569.35 L504.13,570.10 L504.80,570.84 L505.48,571.57 L506.18,572.29 L506.89,573.00 L507.61,573.70 L508.34,574.38 L509.08,575.05 L509.84,575.70 L510.61,576.34 L511.38,576.97 L512.17,577.58 L512.97,578.17 L513.78,578.75 L514.60,579.31 L515.43,579.86 L516.27,580.38 L517.11,580.89 L517.97,581.38 L518.84,581.86 L519.71,582.31 L520.60,582.74 L521.49,583.15 L522.39,583.55 L523.30,583.92 L524.21,584.27 L525.13,584.60 L526.06,584.92 L527.00,585.21 L527.94,585.49 L528.89,585.75 L529.85,585.99 L530.81,586.22 L531.78,586.43 L532.75,586.62 L533.73,586.80 L534.71,586.97 L535.70,587.12 L536.69,587.25 L537.69,587.38 L538.69,587.49 L539.69,587.59 L540.70,587.68 L541.71,587.75 L542.72,587.82 L543.73,587.88 L544.75,587.92 L545.77,587.96 L546.79,587.99 L547.82,588.01 L548.84,588.02 L549.86,588.03 L550.89,588.03 L551.92,588.02 L552.95,588.00 L553.97,587.99 L555.00,587.96 L556.03,587.93 L557.05,587.90 L558.08,587.87 L559.10,587.83 L560.12,587.79 L561.14,587.74 L562.16,587.70 L563.18,587.65 L564.20,587.61 L565.21,587.56 L566.22,587.51 L567.24,587.45 L568.25,587.40 L569.26,587.34 L570.26,587.29 L571.27,587.23 L572.28,587.17 L573.28,587.11 L574.28,587.05 L575.28,586.99 L576.29,586.93 L577.28,586.86 L578.28,586.80 L579.28,586.73 L580.28,586.67 L581.28,586.60 L582.27,586.54 L583.27,586.47 L584.26,586.40 L585.25,586.34 L586.25,586.27 L587.24,586.20 L588.23,586.14 L589.22,586.07 L590.21,586.01 L591.20,585.94 L592.19,585.88 L593.18,585.81 L594.17,585.75 L595.16,585.68 L596.15,585.62 L597.14,585.56 L598.12,585.50 L599.11,585.43 L600.10,585.38 L601.09,585.32 L602.08,585.26 L603.06,585.20 L604.05,585.15 L605.04,585.10 L606.03,585.04 L607.02,584.99 L608.01,584.94 L609.00,584.90 L609.99,584.85 L610.98,584.81 L611.97,584.77 L612.96,584.73 L613.95,584.69 L614.94,584.65 L615.94,584.62 L616.93,584.59 L617.92,584.56 L618.92,584.53 L619.91,584.51 L620.91,584.49 L621.91,584.47 L622.91,584.45 L623.90,584.44 L624.90,584.43 L625.90,584.42 L626.91,584.42 L627.91,584.42 L628.91,584.42 L629.92,584.42 L630.92,584.43 L631.93,584.44 L632.94,584.45 L633.94,584.46 L634.95,584.48 L635.96,584.50 L636.97,584.52 L637.98,584.55 L638.99,584.57 L640.00,584.60 L641.01,584.64 L642.02,584.67 L643.03,584.71 L644.04,584.74 L645.05,584.79 L646.06,584.83 L647.07,584.87 L648.08,584.92 L649.09,584.97 L650.10,585.02 L651.11,585.07 L652.12,585.13 L653.13,585.18 L654.14,585.24 L655.15,585.30 L656.16,585.36 L657.17,585.43 L658.18,585.49 L659.19,585.56 L660.19,585.63 L661.20,585.70 L662.20,585.77 L663.21,585.84 L664.21,585.91 L665.22,585.99 L666.22,586.06 L667.22,586.14 L668.22,586.22 L669.22,586.30 L670.22,586.38 L671.21,586.46 L672.21,586.55 L673.20,586.63 L674.20,586.72 L675.19,586.80 L676.18,586.89 L677.17,586.98 L678.16,587.07 L679.14,587.16 L680.13,587.25 L681.11,587.34 L682.09,587.43 L683.07,587.52 L684.05,587.61 L685.03,587.71 L686.00,587.80" stroke="#0000cc"/>
</g>
<g stroke="#333" stroke-width="1" fill="none">
<line x1="70" y1="22.5" x2="685" y2="22.5"/>
<line x1="70" y1="638.5" x2="685" y2="638.5"/>
<line x1="70" y1="22" x2="70" y2="639"/>
<line x1="685" y1="22" x2="685" y2="639"/>
<line x1="192.5" y1="638" x2="192.5" y2="627"/><line x1="316.5" y1="638" x2="316.5" y2="627"/><line x1="439.0" y1="638" x2="439.0" y2="627"/><line x1="561.5" y1="638" x2="561.5" y2="627"/><line x1="70" y1="78.5" x2="81" y2="78.5"/><line x1="70" y1="190.5" x2="81" y2="190.5"/><line x1="70" y1="302.5" x2="81" y2="302.5"/><line x1="70" y1="414.5" x2="81" y2="414.5"/><line x1="70" y1="526.5" x2="81" y2="526.5"/>
</g>
<g class="tk"><text x="70.0" y="675" text-anchor="middle">600</text><text x="193.0" y="675" text-anchor="middle">650</text><text x="316.0" y="675" text-anchor="middle">700</text><text x="439.0" y="675" text-anchor="middle">750</text><text x="562.0" y="675" text-anchor="middle">800</text><text x="685.0" y="675" text-anchor="middle">850</text></g>
<text class="ax" x="373.2" y="715.6" text-anchor="middle" style="font-size:34.7px">Wavelength (nm)</text>
<text class="ax" transform="translate(47.9,325.2) rotate(-90)" text-anchor="middle">Normalized Reflection Intensity</text>
<line x1="470" y1="63.0" x2="532" y2="63.0" stroke="#dc0000" stroke-width="4"/><text x="537" y="72.2" fill="#dc0000" class="lg">Initial</text><line x1="470" y1="97.1" x2="532" y2="97.1" stroke="#037d14" stroke-width="4"/><text x="537" y="106.3" fill="#037d14" class="lg">Toluene</text><line x1="470" y1="131.3" x2="532" y2="131.3" stroke="#f0640a" stroke-width="4"/><text x="537" y="140.4" fill="#f0640a" class="lg">Hexane</text><line x1="470" y1="165.4" x2="532" y2="165.4" stroke="#0000cc" stroke-width="4"/><text x="537" y="174.5" fill="#0000cc" class="lg">Chloroform</text>
</svg>
</body></html>
